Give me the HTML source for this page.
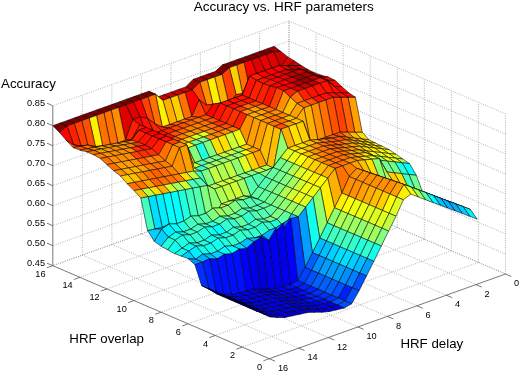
<!DOCTYPE html>
<html><head><meta charset="utf-8"><style>
html,body{margin:0;padding:0;background:#fff;width:520px;height:375px;overflow:hidden}
svg{display:block;will-change:transform}
.g{stroke:#8f8f8f;stroke-width:0.75;stroke-dasharray:0.9 1.45}
.a{stroke:#4a4d4a;stroke-width:0.75}
text{font-family:"Liberation Sans",sans-serif;fill:#000}
.t{font-size:9.2px}
.L{font-size:13.3px}
.T{font-size:13.5px}
</style></head><body>
<svg width="520" height="375" viewBox="0 0 520 375">
<rect width="520" height="375" fill="#fff"/>
<line x1="505.5" y1="274.0" x2="289.0" y2="181.0" class="g"/><line x1="476.0" y1="284.6" x2="259.5" y2="191.6" class="g"/><line x1="446.4" y1="295.2" x2="230.0" y2="202.2" class="g"/><line x1="416.9" y1="305.8" x2="200.4" y2="212.8" class="g"/><line x1="387.4" y1="316.4" x2="170.9" y2="223.4" class="g"/><line x1="357.9" y1="326.9" x2="141.4" y2="233.9" class="g"/><line x1="328.4" y1="337.5" x2="111.9" y2="244.5" class="g"/><line x1="298.8" y1="348.1" x2="82.3" y2="255.1" class="g"/><line x1="478.4" y1="262.4" x2="242.2" y2="347.1" class="g"/><line x1="451.4" y1="250.8" x2="215.2" y2="335.5" class="g"/><line x1="424.3" y1="239.1" x2="188.1" y2="323.8" class="g"/><line x1="397.3" y1="227.5" x2="161.1" y2="312.2" class="g"/><line x1="370.2" y1="215.9" x2="134.0" y2="300.6" class="g"/><line x1="343.1" y1="204.2" x2="106.9" y2="289.0" class="g"/><line x1="316.1" y1="192.6" x2="79.9" y2="277.3" class="g"/><line x1="289.0" y1="181.0" x2="52.8" y2="265.7" class="g"/><line x1="289.0" y1="181.0" x2="289.0" y2="21.0" class="g"/><line x1="259.5" y1="191.6" x2="259.5" y2="31.6" class="g"/><line x1="230.0" y1="202.2" x2="230.0" y2="42.2" class="g"/><line x1="200.4" y1="212.8" x2="200.4" y2="52.8" class="g"/><line x1="170.9" y1="223.4" x2="170.9" y2="63.4" class="g"/><line x1="141.4" y1="233.9" x2="141.4" y2="73.9" class="g"/><line x1="111.9" y1="244.5" x2="111.9" y2="84.5" class="g"/><line x1="82.3" y1="255.1" x2="82.3" y2="95.1" class="g"/><line x1="289.0" y1="181.0" x2="52.8" y2="265.7" class="g"/><line x1="289.0" y1="161.0" x2="52.8" y2="245.7" class="g"/><line x1="289.0" y1="141.0" x2="52.8" y2="225.7" class="g"/><line x1="289.0" y1="121.0" x2="52.8" y2="205.7" class="g"/><line x1="289.0" y1="101.0" x2="52.8" y2="185.7" class="g"/><line x1="289.0" y1="81.0" x2="52.8" y2="165.7" class="g"/><line x1="289.0" y1="61.0" x2="52.8" y2="145.7" class="g"/><line x1="289.0" y1="41.0" x2="52.8" y2="125.7" class="g"/><line x1="289.0" y1="21.0" x2="52.8" y2="105.7" class="g"/><line x1="505.5" y1="274.0" x2="505.5" y2="114.0" class="g"/><line x1="478.4" y1="262.4" x2="478.4" y2="102.4" class="g"/><line x1="451.4" y1="250.8" x2="451.4" y2="90.8" class="g"/><line x1="424.3" y1="239.1" x2="424.3" y2="79.1" class="g"/><line x1="397.3" y1="227.5" x2="397.3" y2="67.5" class="g"/><line x1="370.2" y1="215.9" x2="370.2" y2="55.9" class="g"/><line x1="343.1" y1="204.2" x2="343.1" y2="44.2" class="g"/><line x1="316.1" y1="192.6" x2="316.1" y2="32.6" class="g"/><line x1="289.0" y1="181.0" x2="289.0" y2="21.0" class="g"/><line x1="505.5" y1="274.0" x2="289.0" y2="181.0" class="g"/><line x1="505.5" y1="254.0" x2="289.0" y2="161.0" class="g"/><line x1="505.5" y1="234.0" x2="289.0" y2="141.0" class="g"/><line x1="505.5" y1="214.0" x2="289.0" y2="121.0" class="g"/><line x1="505.5" y1="194.0" x2="289.0" y2="101.0" class="g"/><line x1="505.5" y1="174.0" x2="289.0" y2="81.0" class="g"/><line x1="505.5" y1="154.0" x2="289.0" y2="61.0" class="g"/><line x1="505.5" y1="134.0" x2="289.0" y2="41.0" class="g"/><line x1="505.5" y1="114.0" x2="289.0" y2="21.0" class="g"/><g stroke="#000" stroke-width="0.55" stroke-opacity="1.0" stroke-linejoin="round"><polygon points="281,51.6 273.6,51.8 266.9,48.9 274.2,46.3" fill="#9f0000"/><polygon points="287.8,56.9 280.4,66.8 273.6,51.8 281,51.6" fill="#cf0000"/><polygon points="273.6,51.8 266.2,54.5 259.5,51.6 266.9,48.9" fill="#800000"/><polygon points="280.4,66.8 273,71.4 266.2,54.5 273.6,51.8" fill="#df0000"/><polygon points="294.5,61 287.2,65.7 280.4,66.8 287.8,56.9" fill="#df0000"/><polygon points="266.2,54.5 258.9,57.1 252.1,54.2 259.5,51.6" fill="#800000"/><polygon points="287.2,65.7 279.8,70.3 273,71.4 280.4,66.8" fill="#ff0000"/><polygon points="273,71.4 265.6,72 258.9,57.1 266.2,54.5" fill="#ef0000"/><polygon points="301.3,65.5 293.9,65.5 287.2,65.7 294.5,61" fill="#bf0000"/><polygon points="258.9,57.1 251.5,59.8 244.7,56.9 252.1,54.2" fill="#800000"/><polygon points="279.8,70.3 272.4,71 265.6,72 273,71.4" fill="#ff0000"/><polygon points="265.6,72 258.2,78.7 251.5,59.8 258.9,57.1" fill="#df0000"/><polygon points="293.9,65.5 286.5,65.5 279.8,70.3 287.2,65.7" fill="#cf0000"/><polygon points="308.1,69.7 300.7,69.7 293.9,65.5 301.3,65.5" fill="#cf0000"/><polygon points="251.5,59.8 244.1,62.4 237.3,59.5 244.7,56.9" fill="#800000"/><polygon points="258.2,78.7 250.9,95.3 244.1,62.4 251.5,59.8" fill="#ff0000"/><polygon points="272.4,71 265,77.6 258.2,78.7 265.6,72" fill="#ff0000"/><polygon points="265,77.6 257.6,94.2 250.9,95.3 258.2,78.7" fill="#ff2000"/><polygon points="286.5,65.5 279.2,65.5 272.4,71 279.8,70.3" fill="#ff0000"/><polygon points="314.8,73.1 307.5,73.1 300.7,69.7 308.1,69.7" fill="#9f0000"/><polygon points="244.1,62.4 236.7,65.1 230,62.2 237.3,59.5" fill="#800000"/><polygon points="250.9,95.3 243.5,98 236.7,65.1 244.1,62.4" fill="#ff7000"/><polygon points="300.7,69.7 293.3,69.7 286.5,65.5 293.9,65.5" fill="#bf0000"/><polygon points="257.6,94.2 250.3,96.9 243.5,98 250.9,95.3" fill="#ff1000"/><polygon points="279.2,65.5 271.8,68.1 265,77.6 272.4,71" fill="#ff0000"/><polygon points="236.7,65.1 229.3,67.7 222.6,64.8 230,62.2" fill="#800000"/><polygon points="321.6,75.4 314.2,75.4 307.5,73.1 314.8,73.1" fill="#cf0000"/><polygon points="243.5,98 236.1,94.6 229.3,67.7 236.7,65.1" fill="#ffcf00"/><polygon points="307.5,73.1 300.1,69 293.3,69.7 300.7,69.7" fill="#df0000"/><polygon points="293.3,69.7 285.9,69.7 279.2,65.5 286.5,65.5" fill="#df0000"/><polygon points="250.3,96.9 242.9,93.5 236.1,94.6 243.5,98" fill="#ff1000"/><polygon points="271.8,68.1 264.4,70.8 257.6,94.2 265,77.6" fill="#ff0000"/><polygon points="229.3,67.7 222,74.4 215.2,71.5 222.6,64.8" fill="#800000"/><polygon points="236.1,94.6 228.7,103.3 222,74.4 229.3,67.7" fill="#ff4000"/><polygon points="328.4,77.1 321,77.1 314.2,75.4 321.6,75.4" fill="#df0000"/><polygon points="314.2,75.4 306.8,71.9 300.1,69 307.5,73.1" fill="#af0000"/><polygon points="285.9,69.7 278.5,72.3 271.8,68.1 279.2,65.5" fill="#ff0000"/><polygon points="300.1,69 292.7,71.7 285.9,69.7 293.3,69.7" fill="#cf0000"/><polygon points="264.4,70.8 257,73.4 250.3,96.9 257.6,94.2" fill="#ff1000"/><polygon points="242.9,93.5 235.5,102.2 228.7,103.3 236.1,94.6" fill="#ff2000"/><polygon points="222,74.4 214.6,77 207.8,74.1 215.2,71.5" fill="#9f0000"/><polygon points="228.7,103.3 221.3,105.9 214.6,77 222,74.4" fill="#ffaf00"/><polygon points="235.5,102.2 228.1,104.8 221.3,105.9 228.7,103.3" fill="#ff1000"/><polygon points="335.1,80.4 327.7,80.4 321,77.1 328.4,77.1" fill="#ff0000"/><polygon points="278.5,72.3 271.2,75 264.4,70.8 271.8,68.1" fill="#ff0000"/><polygon points="292.7,71.7 285.3,74.3 278.5,72.3 285.9,69.7" fill="#df0000"/><polygon points="321,77.1 313.6,74.8 306.8,71.9 314.2,75.4" fill="#bf0000"/><polygon points="257,73.4 249.6,76 242.9,93.5 250.3,96.9" fill="#ff1000"/><polygon points="306.8,71.9 299.5,74.6 292.7,71.7 300.1,69" fill="#cf0000"/><polygon points="214.6,77 207.2,79.7 200.4,76.8 207.8,74.1" fill="#9f0000"/><polygon points="221.3,105.9 214,108.6 207.2,79.7 214.6,77" fill="#ffef00"/><polygon points="249.6,76 242.3,95.1 235.5,102.2 242.9,93.5" fill="#ff1000"/><polygon points="228.1,104.8 220.7,107.5 214,108.6 221.3,105.9" fill="#ff1000"/><polygon points="341.9,86.7 334.5,86.7 327.7,80.4 335.1,80.4" fill="#ff0000"/><polygon points="271.2,75 263.8,77.6 257,73.4 264.4,70.8" fill="#ff0000"/><polygon points="285.3,74.3 277.9,77 271.2,75 278.5,72.3" fill="#ff0000"/><polygon points="299.5,74.6 292.1,77.2 285.3,74.3 292.7,71.7" fill="#bf0000"/><polygon points="327.7,80.4 320.4,77.7 313.6,74.8 321,77.1" fill="#ef0000"/><polygon points="313.6,74.8 306.2,77.5 299.5,74.6 306.8,71.9" fill="#af0000"/><polygon points="207.2,79.7 199.8,82.3 193,79.4 200.4,76.8" fill="#9f0000"/><polygon points="242.3,95.1 234.9,97.7 228.1,104.8 235.5,102.2" fill="#ff1000"/><polygon points="214,108.6 206.6,105.2 199.8,82.3 207.2,79.7" fill="#ff8f00"/><polygon points="348.7,92.8 341.3,92.8 334.5,86.7 341.9,86.7" fill="#ff0000"/><polygon points="263.8,77.6 256.4,80.3 249.6,76 257,73.4" fill="#ff2000"/><polygon points="277.9,77 270.5,79.6 263.8,77.6 271.2,75" fill="#ff0000"/><polygon points="220.7,107.5 213.3,104.1 206.6,105.2 214,108.6" fill="#ff2000"/><polygon points="199.8,82.3 192.4,89.8 185.7,86.9 193,79.4" fill="#9f0000"/><polygon points="292.1,77.2 284.7,79.9 277.9,77 285.3,74.3" fill="#ef0000"/><polygon points="334.5,86.7 327.1,80.7 320.4,77.7 327.7,80.4" fill="#ff1000"/><polygon points="306.2,77.5 298.8,80.1 292.1,77.2 299.5,74.6" fill="#9f0000"/><polygon points="320.4,77.7 313,80.4 306.2,77.5 313.6,74.8" fill="#bf0000"/><polygon points="256.4,80.3 249,98 242.3,95.1 249.6,76" fill="#ff1000"/><polygon points="234.9,97.7 227.5,100.4 220.7,107.5 228.1,104.8" fill="#ff1000"/><polygon points="369,139.8 361.6,138.9 354.8,132.1 362.2,132.1" fill="#ffdf00"/><polygon points="362.2,132.1 354.8,132.1 348,97.1 355.4,97.2" fill="#ff9f00"/><polygon points="355.4,97.2 348,97.1 341.3,92.8 348.7,92.8" fill="#ff0000"/><polygon points="206.6,105.2 199.2,99.9 192.4,89.8 199.8,82.3" fill="#ff4000"/><polygon points="249,98 241.6,100.6 234.9,97.7 242.3,95.1" fill="#ff1000"/><polygon points="192.4,89.8 185.1,92.4 178.3,89.5 185.7,86.9" fill="#cf0000"/><polygon points="270.5,79.6 263.2,83.6 256.4,80.3 263.8,77.6" fill="#ff1000"/><polygon points="341.3,92.8 333.9,92.8 327.1,80.7 334.5,86.7" fill="#ff1000"/><polygon points="284.7,79.9 277.3,82.5 270.5,79.6 277.9,77" fill="#ff0000"/><polygon points="213.3,104.1 206,114.8 199.2,99.9 206.6,105.2" fill="#ff2000"/><polygon points="298.8,80.1 291.5,82.8 284.7,79.9 292.1,77.2" fill="#df0000"/><polygon points="313,80.4 305.6,83 298.8,80.1 306.2,77.5" fill="#9f0000"/><polygon points="375.7,143.1 368.3,142.2 361.6,138.9 369,139.8" fill="#ffdf00"/><polygon points="327.1,80.7 319.8,83.3 313,80.4 320.4,77.7" fill="#ff1000"/><polygon points="263.2,83.6 255.8,100.9 249,98 256.4,80.3" fill="#ff2000"/><polygon points="227.5,100.4 220.1,103 213.3,104.1 220.7,107.5" fill="#ff1000"/><polygon points="199.2,99.9 191.8,116.5 185.1,92.4 192.4,89.8" fill="#ff0000"/><polygon points="361.6,138.9 354.2,138.1 347.4,132 354.8,132.1" fill="#ffbf00"/><polygon points="354.8,132.1 347.4,132 340.7,97.1 348,97.1" fill="#ff6000"/><polygon points="241.6,100.6 234.3,103.3 227.5,100.4 234.9,97.7" fill="#ff1000"/><polygon points="348,97.1 340.7,97.1 333.9,92.8 341.3,92.8" fill="#ff1000"/><polygon points="255.8,100.9 248.4,103.6 241.6,100.6 249,98" fill="#ff1000"/><polygon points="185.1,92.4 177.7,95.1 170.9,92.2 178.3,89.5" fill="#cf0000"/><polygon points="206,114.8 198.6,117.4 191.8,116.5 199.2,99.9" fill="#ff4000"/><polygon points="277.3,82.5 269.9,86 263.2,83.6 270.5,79.6" fill="#ff1000"/><polygon points="291.5,82.8 284.1,85.4 277.3,82.5 284.7,79.9" fill="#ff0000"/><polygon points="333.9,92.8 326.5,92.8 319.8,83.3 327.1,80.7" fill="#ff1000"/><polygon points="220.1,103 212.7,117.7 206,114.8 213.3,104.1" fill="#ff0000"/><polygon points="191.8,116.5 184.4,119.2 177.7,95.1 185.1,92.4" fill="#ff7000"/><polygon points="305.6,83 298.2,85.7 291.5,82.8 298.8,80.1" fill="#af0000"/><polygon points="319.8,83.3 312.4,85.9 305.6,83 313,80.4" fill="#bf0000"/><polygon points="382.5,146.4 375.1,145.5 368.3,142.2 375.7,143.1" fill="#ffef00"/><polygon points="269.9,86 262.5,103.8 255.8,100.9 263.2,83.6" fill="#ff2000"/><polygon points="368.3,142.2 361,141.4 354.2,138.1 361.6,138.9" fill="#ffcf00"/><polygon points="198.6,117.4 191.2,120.1 184.4,119.2 191.8,116.5" fill="#ff5000"/><polygon points="234.3,103.3 226.9,105.9 220.1,103 227.5,100.4" fill="#ff1000"/><polygon points="354.2,138.1 346.8,137.2 340,132 347.4,132" fill="#ff8000"/><polygon points="212.7,117.7 205.3,120.3 198.6,117.4 206,114.8" fill="#ff5000"/><polygon points="248.4,103.6 241,106.2 234.3,103.3 241.6,100.6" fill="#ff2000"/><polygon points="177.7,95.1 170.3,97.7 163.5,94.8 170.9,92.2" fill="#cf0000"/><polygon points="347.4,132 340,132 333.3,97.1 340.7,97.1" fill="#ff4000"/><polygon points="340.7,97.1 333.3,97.1 326.5,92.8 333.9,92.8" fill="#ff1000"/><polygon points="262.5,103.8 255.2,106.5 248.4,103.6 255.8,100.9" fill="#ff4000"/><polygon points="284.1,85.4 276.7,87.6 269.9,86 277.3,82.5" fill="#ff0000"/><polygon points="326.5,92.8 319.1,95.4 312.4,85.9 319.8,83.3" fill="#ff1000"/><polygon points="184.4,119.2 177.1,121.8 170.3,97.7 177.7,95.1" fill="#ffcf00"/><polygon points="298.2,85.7 290.8,88.3 284.1,85.4 291.5,82.8" fill="#ef0000"/><polygon points="226.9,105.9 219.5,120.6 212.7,117.7 220.1,103" fill="#ff1000"/><polygon points="312.4,85.9 305,88.6 298.2,85.7 305.6,83" fill="#cf0000"/><polygon points="389.3,149.7 381.9,148.8 375.1,145.5 382.5,146.4" fill="#ffff00"/><polygon points="276.7,87.6 269.3,106.7 262.5,103.8 269.9,86" fill="#ff1000"/><polygon points="375.1,145.5 367.7,144.7 361,141.4 368.3,142.2" fill="#ffdf00"/><polygon points="191.2,120.1 183.8,122.7 177.1,121.8 184.4,119.2" fill="#ff7000"/><polygon points="361,141.4 353.6,140.5 346.8,137.2 354.2,138.1" fill="#ffaf00"/><polygon points="205.3,120.3 198,123 191.2,120.1 198.6,117.4" fill="#ff7000"/><polygon points="241,106.2 233.6,108.8 226.9,105.9 234.3,103.3" fill="#ff1000"/><polygon points="170.3,97.7 162.9,100.4 156.1,97.4 163.5,94.8" fill="#cf0000"/><polygon points="219.5,120.6 212.1,123.2 205.3,120.3 212.7,117.7" fill="#ff5000"/><polygon points="255.2,106.5 247.8,109.1 241,106.2 248.4,103.6" fill="#ff7000"/><polygon points="346.8,137.2 339.4,136.4 332.7,134.7 340,132" fill="#ff5000"/><polygon points="340,132 332.7,134.7 325.9,99.8 333.3,97.1" fill="#ff5000"/><polygon points="333.3,97.1 325.9,99.8 319.1,95.4 326.5,92.8" fill="#ff1000"/><polygon points="269.3,106.7 261.9,109.4 255.2,106.5 262.5,103.8" fill="#ff7000"/><polygon points="319.1,95.4 311.8,98.1 305,88.6 312.4,85.9" fill="#ff1000"/><polygon points="177.1,121.8 169.7,124.5 162.9,100.4 170.3,97.7" fill="#ffaf00"/><polygon points="290.8,88.3 283.5,90.9 276.7,87.6 284.1,85.4" fill="#ff0000"/><polygon points="305,88.6 297.6,91.2 290.8,88.3 298.2,85.7" fill="#df0000"/><polygon points="233.6,108.8 226.3,123.5 219.5,120.6 226.9,105.9" fill="#ff2000"/><polygon points="396,154.3 388.6,153.5 381.9,148.8 389.3,149.7" fill="#efff10"/><polygon points="183.8,122.7 176.4,125.4 169.7,124.5 177.1,121.8" fill="#ff6000"/><polygon points="381.9,148.8 374.5,148 367.7,144.7 375.1,145.5" fill="#ffef00"/><polygon points="283.5,90.9 276.1,109.6 269.3,106.7 276.7,87.6" fill="#ff4000"/><polygon points="198,123 190.6,125.6 183.8,122.7 191.2,120.1" fill="#ff6000"/><polygon points="367.7,144.7 360.3,143.8 353.6,140.5 361,141.4" fill="#ffcf00"/><polygon points="212.1,123.2 204.7,125.9 198,123 205.3,120.3" fill="#ff7000"/><polygon points="247.8,109.1 240.4,111.8 233.6,108.8 241,106.2" fill="#ff3000"/><polygon points="332.7,134.7 325.3,137.3 318.5,102.4 325.9,99.8" fill="#ff7000"/><polygon points="226.3,123.5 218.9,126.1 212.1,123.2 219.5,120.6" fill="#ff3000"/><polygon points="353.6,140.5 346.2,139.7 339.4,136.4 346.8,137.2" fill="#ff8000"/><polygon points="339.4,136.4 332.1,138.2 325.3,137.3 332.7,134.7" fill="#ff6000"/><polygon points="325.9,99.8 318.5,102.4 311.8,98.1 319.1,95.4" fill="#ff1000"/><polygon points="261.9,109.4 254.6,112 247.8,109.1 255.2,106.5" fill="#ff9f00"/><polygon points="276.1,109.6 268.7,112.3 261.9,109.4 269.3,106.7" fill="#ff7000"/><polygon points="162.9,100.4 155.5,94.2 148.8,91.3 156.1,97.4" fill="#cf0000"/><polygon points="311.8,98.1 304.4,100.7 297.6,91.2 305,88.6" fill="#ff2000"/><polygon points="297.6,91.2 290.2,97.2 283.5,90.9 290.8,88.3" fill="#ff2000"/><polygon points="169.7,124.5 162.3,127.1 155.5,94.2 162.9,100.4" fill="#ffef00"/><polygon points="402.8,159 395.4,158.1 388.6,153.5 396,154.3" fill="#dfff20"/><polygon points="240.4,111.8 233,126.4 226.3,123.5 233.6,108.8" fill="#ff3000"/><polygon points="176.4,125.4 169.1,128 162.3,127.1 169.7,124.5" fill="#ff4000"/><polygon points="388.6,153.5 381.3,152.6 374.5,148 381.9,148.8" fill="#ffef00"/><polygon points="290.2,97.2 282.8,112.5 276.1,109.6 283.5,90.9" fill="#ff8f00"/><polygon points="190.6,125.6 183.2,128.3 176.4,125.4 183.8,122.7" fill="#ff5000"/><polygon points="204.7,125.9 197.4,128.5 190.6,125.6 198,123" fill="#ff8000"/><polygon points="374.5,148 367.1,147.1 360.3,143.8 367.7,144.7" fill="#ffdf00"/><polygon points="325.3,137.3 317.9,140 311.1,105.1 318.5,102.4" fill="#ff8f00"/><polygon points="218.9,126.1 211.5,128.8 204.7,125.9 212.1,123.2" fill="#ff7000"/><polygon points="318.5,102.4 311.1,105.1 304.4,100.7 311.8,98.1" fill="#ff5000"/><polygon points="254.6,112 247.2,114.7 240.4,111.8 247.8,109.1" fill="#ff8f00"/><polygon points="332.1,138.2 324.7,138.9 317.9,140 325.3,137.3" fill="#ff8000"/><polygon points="360.3,143.8 353,143 346.2,139.7 353.6,140.5" fill="#ffaf00"/><polygon points="233,126.4 225.6,129 218.9,126.1 226.3,123.5" fill="#ff5000"/><polygon points="268.7,112.3 261.3,114.9 254.6,112 261.9,109.4" fill="#ff9f00"/><polygon points="304.4,100.7 297,103.4 290.2,97.2 297.6,91.2" fill="#ff7000"/><polygon points="346.2,139.7 338.8,141.1 332.1,138.2 339.4,136.4" fill="#ff5000"/><polygon points="282.8,112.5 275.5,115.2 268.7,112.3 276.1,109.6" fill="#ff8f00"/><polygon points="409.6,163.6 402.2,162.8 395.4,158.1 402.8,159" fill="#9fff60"/><polygon points="155.5,94.2 148.1,96.8 141.4,93.9 148.8,91.3" fill="#800000"/><polygon points="162.3,127.1 154.9,123.8 148.1,96.8 155.5,94.2" fill="#ff7000"/><polygon points="247.2,114.7 239.8,129.3 233,126.4 240.4,111.8" fill="#ff2000"/><polygon points="395.4,158.1 388,157.3 381.3,152.6 388.6,153.5" fill="#ffff00"/><polygon points="297,103.4 289.6,115.4 282.8,112.5 290.2,97.2" fill="#ffbf00"/><polygon points="169.1,128 161.7,130.7 154.9,123.8 162.3,127.1" fill="#ff2000"/><polygon points="183.2,128.3 175.8,130.9 169.1,128 176.4,125.4" fill="#ff4000"/><polygon points="197.4,128.5 190,131.2 183.2,128.3 190.6,125.6" fill="#ff8000"/><polygon points="381.3,152.6 373.9,151.8 367.1,147.1 374.5,148" fill="#ffef00"/><polygon points="317.9,140 310.5,142.6 303.8,107.7 311.1,105.1" fill="#ffaf00"/><polygon points="211.5,128.8 204.1,131.4 197.4,128.5 204.7,125.9" fill="#ff8000"/><polygon points="311.1,105.1 303.8,107.7 297,103.4 304.4,100.7" fill="#ff7000"/><polygon points="225.6,129 218.3,131.7 211.5,128.8 218.9,126.1" fill="#ff6000"/><polygon points="261.3,114.9 253.9,117.6 247.2,114.7 254.6,112" fill="#ffaf00"/><polygon points="324.7,138.9 317.3,139.5 310.5,142.6 317.9,140" fill="#ff9f00"/><polygon points="416.3,175.3 408.9,174.5 402.2,162.8 409.6,163.6" fill="#00ffff"/><polygon points="367.1,147.1 359.7,146.3 353,143 360.3,143.8" fill="#ffcf00"/><polygon points="239.8,129.3 232.4,132 225.6,129 233,126.4" fill="#ff7000"/><polygon points="275.5,115.2 268.1,117.8 261.3,114.9 268.7,112.3" fill="#ff8000"/><polygon points="353,143 345.6,144 338.8,141.1 346.2,139.7" fill="#ff8000"/><polygon points="338.8,141.1 331.4,141.8 324.7,138.9 332.1,138.2" fill="#ff6000"/><polygon points="289.6,115.4 282.2,118.1 275.5,115.2 282.8,112.5" fill="#ff8000"/><polygon points="148.1,96.8 140.8,99.5 134,96.6 141.4,93.9" fill="#800000"/><polygon points="423.1,193.2 415.7,190.5 408.9,174.5 416.3,175.3" fill="#70ff8f"/><polygon points="253.9,117.6 246.6,144.2 239.8,129.3 247.2,114.7" fill="#ff8f00"/><polygon points="402.2,162.8 394.8,161.9 388,157.3 395.4,158.1" fill="#efff10"/><polygon points="303.8,107.7 296.4,118.3 289.6,115.4 297,103.4" fill="#ff9f00"/><polygon points="175.8,130.9 168.4,133.6 161.7,130.7 169.1,128" fill="#ff2000"/><polygon points="154.9,123.8 147.5,118.4 140.8,99.5 148.1,96.8" fill="#ff4000"/><polygon points="246.6,144.2 239.2,146.9 232.4,132 239.8,129.3" fill="#efff10"/><polygon points="190,131.2 182.6,133.8 175.8,130.9 183.2,128.3" fill="#ff6000"/><polygon points="388,157.3 380.6,156.4 373.9,151.8 381.3,152.6" fill="#dfff20"/><polygon points="161.7,130.7 154.3,133.3 147.5,118.4 154.9,123.8" fill="#ff2000"/><polygon points="204.1,131.4 196.7,134.1 190,131.2 197.4,128.5" fill="#ff8f00"/><polygon points="429.8,195.5 422.5,192.8 415.7,190.5 423.1,193.2" fill="#8fff70"/><polygon points="218.3,131.7 210.9,134.3 204.1,131.4 211.5,128.8" fill="#ff8f00"/><polygon points="373.9,151.8 366.5,150.9 359.7,146.3 367.1,147.1" fill="#ffdf00"/><polygon points="232.4,132 225,134.6 218.3,131.7 225.6,129" fill="#ff8f00"/><polygon points="268.1,117.8 260.7,120.5 253.9,117.6 261.3,114.9" fill="#ffaf00"/><polygon points="310.5,142.6 303.1,121.3 296.4,118.3 303.8,107.7" fill="#ffaf00"/><polygon points="282.2,118.1 274.8,120.7 268.1,117.8 275.5,115.2" fill="#ff7000"/><polygon points="359.7,146.3 352.3,146.9 345.6,144 353,143" fill="#ff9f00"/><polygon points="345.6,144 338.2,144.7 331.4,141.8 338.8,141.1" fill="#ff6000"/><polygon points="408.9,174.5 401.6,173.6 394.8,161.9 402.2,162.8" fill="#20ffdf"/><polygon points="260.7,120.5 253.3,147.1 246.6,144.2 253.9,117.6" fill="#ff9f00"/><polygon points="331.4,141.8 324.1,142.4 317.3,139.5 324.7,138.9" fill="#ff8000"/><polygon points="296.4,118.3 289,121 282.2,118.1 289.6,115.4" fill="#ffbf00"/><polygon points="140.8,99.5 133.4,102.1 126.6,99.2 134,96.6" fill="#800000"/><polygon points="253.3,147.1 245.9,149.8 239.2,146.9 246.6,144.2" fill="#ffcf00"/><polygon points="317.3,139.5 309.9,140.2 303.1,121.3 310.5,142.6" fill="#ffcf00"/><polygon points="415.7,190.5 408.3,187.7 401.6,173.6 408.9,174.5" fill="#40ffbf"/><polygon points="168.4,133.6 161.1,136.2 154.3,133.3 161.7,130.7" fill="#ff1000"/><polygon points="239.2,146.9 231.8,149.5 225,134.6 232.4,132" fill="#cfff30"/><polygon points="394.8,161.9 387.4,161.1 380.6,156.4 388,157.3" fill="#efff10"/><polygon points="182.6,133.8 175.2,136.5 168.4,133.6 175.8,130.9" fill="#ff5000"/><polygon points="196.7,134.1 189.4,136.7 182.6,133.8 190,131.2" fill="#ff9f00"/><polygon points="147.5,118.4 140.1,117 133.4,102.1 140.8,99.5" fill="#ff0000"/><polygon points="210.9,134.3 203.5,137 196.7,134.1 204.1,131.4" fill="#dfff20"/><polygon points="380.6,156.4 373.3,155.6 366.5,150.9 373.9,151.8" fill="#ffff00"/><polygon points="154.3,133.3 146.9,136 140.1,117 147.5,118.4" fill="#ff1000"/><polygon points="225,134.6 217.6,137.2 210.9,134.3 218.3,131.7" fill="#ff8000"/><polygon points="436.6,197.8 429.2,195.1 422.5,192.8 429.8,195.5" fill="#40ffbf"/><polygon points="274.8,120.7 267.5,123.4 260.7,120.5 268.1,117.8" fill="#ff8f00"/><polygon points="366.5,150.9 359.1,149.8 352.3,146.9 359.7,146.3" fill="#ffbf00"/><polygon points="289,121 281.6,123.6 274.8,120.7 282.2,118.1" fill="#ff7000"/><polygon points="133.4,102.1 126,104.8 119.2,101.9 126.6,99.2" fill="#800000"/><polygon points="352.3,146.9 345,147.6 338.2,144.7 345.6,144" fill="#ff8000"/><polygon points="422.5,192.8 415.1,190 408.3,187.7 415.7,190.5" fill="#dfff20"/><polygon points="267.5,123.4 260.1,150 253.3,147.1 260.7,120.5" fill="#ff9f00"/><polygon points="338.2,144.7 330.8,145.3 324.1,142.4 331.4,141.8" fill="#ff6000"/><polygon points="303.1,121.3 295.8,123.9 289,121 296.4,118.3" fill="#ffbf00"/><polygon points="324.1,142.4 316.7,143.1 309.9,140.2 317.3,139.5" fill="#ff9f00"/><polygon points="245.9,149.8 238.6,152.4 231.8,149.5 239.2,146.9" fill="#9fff60"/><polygon points="401.6,173.6 394.2,172.8 387.4,161.1 394.8,161.9" fill="#70ff8f"/><polygon points="260.1,150 252.7,152.7 245.9,149.8 253.3,147.1" fill="#ff9f00"/><polygon points="161.1,136.2 153.7,138.9 146.9,136 154.3,133.3" fill="#ff0000"/><polygon points="231.8,149.5 224.4,152.2 217.6,137.2 225,134.6" fill="#ffdf00"/><polygon points="175.2,136.5 167.8,139.1 161.1,136.2 168.4,133.6" fill="#ff1000"/><polygon points="189.4,136.7 182,139.4 175.2,136.5 182.6,133.8" fill="#ff8000"/><polygon points="309.9,140.2 302.5,142.8 295.8,123.9 303.1,121.3" fill="#ffcf00"/><polygon points="408.3,187.7 400.9,184.9 394.2,172.8 401.6,173.6" fill="#ffdf00"/><polygon points="203.5,137 196.1,139.6 189.4,136.7 196.7,134.1" fill="#dfff20"/><polygon points="140.1,117 132.8,119.7 126,104.8 133.4,102.1" fill="#df0000"/><polygon points="387.4,161.1 380,160.2 373.3,155.6 380.6,156.4" fill="#afff50"/><polygon points="217.6,137.2 210.3,139.9 203.5,137 210.9,134.3" fill="#ff8f00"/><polygon points="266.9,164.9 259.5,167.6 252.7,152.7 260.1,150" fill="#ff9f00"/><polygon points="443.4,200.2 436,197.4 429.2,195.1 436.6,197.8" fill="#00dfff"/><polygon points="274.2,126.3 266.9,164.9 260.1,150 267.5,123.4" fill="#ffbf00"/><polygon points="281.6,123.6 274.2,126.3 267.5,123.4 274.8,120.7" fill="#ff7000"/><polygon points="373.3,155.6 365.9,152.7 359.1,149.8 366.5,150.9" fill="#ffdf00"/><polygon points="126,104.8 118.6,107.4 111.9,104.5 119.2,101.9" fill="#800000"/><polygon points="146.9,136 139.5,124.6 132.8,119.7 140.1,117" fill="#ff0000"/><polygon points="295.8,123.9 288.4,126.5 281.6,123.6 289,121" fill="#ff9f00"/><polygon points="359.1,149.8 351.7,150.5 345,147.6 352.3,146.9" fill="#ff9f00"/><polygon points="238.6,152.4 231.2,155.1 224.4,152.2 231.8,149.5" fill="#bfff40"/><polygon points="345,147.6 337.6,148.2 330.8,145.3 338.2,144.7" fill="#ff6000"/><polygon points="429.2,195.1 421.9,192.3 415.1,190 422.5,192.8" fill="#8fff70"/><polygon points="316.7,143.1 309.3,145.7 302.5,142.8 309.9,140.2" fill="#ffbf00"/><polygon points="330.8,145.3 323.4,146 316.7,143.1 324.1,142.4" fill="#ff7000"/><polygon points="252.7,152.7 245.3,155.3 238.6,152.4 245.9,149.8" fill="#ffff00"/><polygon points="132.8,119.7 125.4,140.3 118.6,107.4 126,104.8" fill="#df0000"/><polygon points="415.1,190 407.7,187.2 400.9,184.9 408.3,187.7" fill="#cfff30"/><polygon points="394.2,172.8 386.8,171.9 380,160.2 387.4,161.1" fill="#70ff8f"/><polygon points="224.4,152.2 217,154.8 210.3,139.9 217.6,137.2" fill="#ffdf00"/><polygon points="167.8,139.1 160.4,141.8 153.7,138.9 161.1,136.2" fill="#ff1000"/><polygon points="182,139.4 174.6,142 167.8,139.1 175.2,136.5" fill="#ff5000"/><polygon points="273.6,167.8 266.2,170.5 259.5,167.6 266.9,164.9" fill="#afff50"/><polygon points="302.5,142.8 295.1,145.5 288.4,126.5 295.8,123.9" fill="#ffdf00"/><polygon points="196.1,139.6 188.7,142.3 182,139.4 189.4,136.7" fill="#ffcf00"/><polygon points="210.3,139.9 202.9,142.5 196.1,139.6 203.5,137" fill="#80ff80"/><polygon points="139.5,124.6 132.2,139.2 125.4,140.3 132.8,119.7" fill="#ff2000"/><polygon points="281,129.2 273.6,167.8 266.9,164.9 274.2,126.3" fill="#ffbf00"/><polygon points="153.7,138.9 146.3,127.5 139.5,124.6 146.9,136" fill="#ff0000"/><polygon points="259.5,167.6 252.1,170.2 245.3,155.3 252.7,152.7" fill="#ffcf00"/><polygon points="400.9,184.9 393.6,182.1 386.8,171.9 394.2,172.8" fill="#ffcf00"/><polygon points="118.6,107.4 111.2,110.1 104.5,107.2 111.9,104.5" fill="#800000"/><polygon points="380,160.2 372.6,155.7 365.9,152.7 373.3,155.6" fill="#ffff00"/><polygon points="125.4,140.3 118,143 111.2,110.1 118.6,107.4" fill="#ff8f00"/><polygon points="450.1,202.5 442.8,199.7 436,197.4 443.4,200.2" fill="#00bfff"/><polygon points="288.4,126.5 281,129.2 274.2,126.3 281.6,123.6" fill="#ff5000"/><polygon points="231.2,155.1 223.8,157.7 217,154.8 224.4,152.2" fill="#bfff40"/><polygon points="309.3,145.7 301.9,148.4 295.1,145.5 302.5,142.8" fill="#ffdf00"/><polygon points="365.9,152.7 358.5,153.4 351.7,150.5 359.1,149.8" fill="#ffaf00"/><polygon points="245.3,155.3 237.9,158 231.2,155.1 238.6,152.4" fill="#8fff70"/><polygon points="351.7,150.5 344.4,151.1 337.6,148.2 345,147.6" fill="#ff8000"/><polygon points="323.4,146 316.1,148.6 309.3,145.7 316.7,143.1" fill="#ff8f00"/><polygon points="132.2,139.2 124.8,141.9 118,143 125.4,140.3" fill="#ff8f00"/><polygon points="337.6,148.2 330.2,148.9 323.4,146 330.8,145.3" fill="#ff7000"/><polygon points="436,197.4 428.6,194.6 421.9,192.3 429.2,195.1" fill="#40ffbf"/><polygon points="217,154.8 209.6,157.4 202.9,142.5 210.3,139.9" fill="#80ff80"/><polygon points="421.9,192.3 414.5,189.5 407.7,187.2 415.1,190" fill="#dfff20"/><polygon points="174.6,142 167.2,144.7 160.4,141.8 167.8,139.1" fill="#ff2000"/><polygon points="266.2,170.5 258.9,173.1 252.1,170.2 259.5,167.6" fill="#bfff40"/><polygon points="295.1,145.5 287.8,148.1 281,129.2 288.4,126.5" fill="#ffaf00"/><polygon points="188.7,142.3 181.4,144.9 174.6,142 182,139.4" fill="#ff9f00"/><polygon points="202.9,142.5 195.5,145.2 188.7,142.3 196.1,139.6" fill="#70ff8f"/><polygon points="407.7,187.2 400.3,184.4 393.6,182.1 400.9,184.9" fill="#ffbf00"/><polygon points="287.8,148.1 280.4,157.7 273.6,167.8 281,129.2" fill="#8fff70"/><polygon points="252.1,170.2 244.7,172.9 237.9,158 245.3,155.3" fill="#dfff20"/><polygon points="386.8,171.9 379.4,158.6 372.6,155.7 380,160.2" fill="#9fff60"/><polygon points="160.4,141.8 153.1,130.4 146.3,127.5 153.7,138.9" fill="#ff0000"/><polygon points="111.2,110.1 103.9,112.7 97.1,109.8 104.5,107.2" fill="#800000"/><polygon points="280.4,157.7 273,167.4 266.2,170.5 273.6,167.8" fill="#70ff8f"/><polygon points="118,143 110.6,145.6 103.9,112.7 111.2,110.1" fill="#ff7000"/><polygon points="146.3,127.5 138.9,130.2 132.2,139.2 139.5,124.6" fill="#ff1000"/><polygon points="223.8,157.7 216.4,160.4 209.6,157.4 217,154.8" fill="#80ff80"/><polygon points="301.9,148.4 294.5,151 287.8,148.1 295.1,145.5" fill="#ffdf00"/><polygon points="456.9,204.8 449.5,202 442.8,199.7 450.1,202.5" fill="#00bfff"/><polygon points="237.9,158 230.6,160.6 223.8,157.7 231.2,155.1" fill="#9fff60"/><polygon points="316.1,148.6 308.7,151.3 301.9,148.4 309.3,145.7" fill="#ffbf00"/><polygon points="124.8,141.9 117.4,144.5 110.6,145.6 118,143" fill="#ff8f00"/><polygon points="372.6,155.7 365.3,156.3 358.5,153.4 365.9,152.7" fill="#ffef00"/><polygon points="358.5,153.4 351.1,154 344.4,151.1 351.7,150.5" fill="#ff9f00"/><polygon points="330.2,148.9 322.8,151.5 316.1,148.6 323.4,146" fill="#ff7000"/><polygon points="344.4,151.1 337,151.8 330.2,148.9 337.6,148.2" fill="#ff6000"/><polygon points="442.8,199.7 435.4,196.9 428.6,194.6 436,197.4" fill="#00dfff"/><polygon points="209.6,157.4 202.3,160.1 195.5,145.2 202.9,142.5" fill="#20ffdf"/><polygon points="393.6,182.1 386.2,179.4 379.4,158.6 386.8,171.9" fill="#afff50"/><polygon points="258.9,173.1 251.5,175.8 244.7,172.9 252.1,170.2" fill="#80ff80"/><polygon points="181.4,144.9 174,147.6 167.2,144.7 174.6,142" fill="#ff6000"/><polygon points="428.6,194.6 421.2,191.8 414.5,189.5 421.9,192.3" fill="#9fff60"/><polygon points="195.5,145.2 188.1,147.8 181.4,144.9 188.7,142.3" fill="#ffff00"/><polygon points="273,167.4 265.6,177 258.9,173.1 266.2,170.5" fill="#80ff80"/><polygon points="138.9,130.2 131.5,140.3 124.8,141.9 132.2,139.2" fill="#ff7000"/><polygon points="414.5,189.5 407.1,186.8 400.3,184.4 407.7,187.2" fill="#cfff30"/><polygon points="244.7,172.9 237.3,175.5 230.6,160.6 237.9,158" fill="#8fff70"/><polygon points="294.5,151 287.1,160.7 280.4,157.7 287.8,148.1" fill="#dfff20"/><polygon points="103.9,112.7 96.5,115.4 89.7,112.5 97.1,109.8" fill="#800000"/><polygon points="167.2,144.7 159.8,133.3 153.1,130.4 160.4,141.8" fill="#ff0000"/><polygon points="110.6,145.6 103.2,148.3 96.5,115.4 103.9,112.7" fill="#ff7000"/><polygon points="216.4,160.4 209,163 202.3,160.1 209.6,157.4" fill="#80ff80"/><polygon points="400.3,184.4 392.9,181.7 386.2,179.4 393.6,182.1" fill="#ff8f00"/><polygon points="230.6,160.6 223.2,163.3 216.4,160.4 223.8,157.7" fill="#8fff70"/><polygon points="308.7,151.3 301.3,153.9 294.5,151 301.9,148.4" fill="#ffef00"/><polygon points="117.4,144.5 110,147.2 103.2,148.3 110.6,145.6" fill="#ff8f00"/><polygon points="463.7,207.1 456.3,204.3 449.5,202 456.9,204.8" fill="#00dfff"/><polygon points="322.8,151.5 315.4,154.2 308.7,151.3 316.1,148.6" fill="#ff8f00"/><polygon points="379.4,158.6 372,159.2 365.3,156.3 372.6,155.7" fill="#efff10"/><polygon points="153.1,130.4 145.7,133.1 138.9,130.2 146.3,127.5" fill="#ff0000"/><polygon points="202.3,160.1 194.9,162.7 188.1,147.8 195.5,145.2" fill="#80ff80"/><polygon points="287.1,160.7 279.8,170.3 273,167.4 280.4,157.7" fill="#70ff8f"/><polygon points="365.3,156.3 357.9,156.9 351.1,154 358.5,153.4" fill="#ffaf00"/><polygon points="337,151.8 329.6,154.4 322.8,151.5 330.2,148.9" fill="#ff7000"/><polygon points="351.1,154 343.7,154.7 337,151.8 344.4,151.1" fill="#ff7000"/><polygon points="265.6,177 258.2,186.7 251.5,175.8 258.9,173.1" fill="#50ffaf"/><polygon points="449.5,202 442.1,199.2 435.4,196.9 442.8,199.7" fill="#00bfff"/><polygon points="251.5,175.8 244.1,178.4 237.3,175.5 244.7,172.9" fill="#80ff80"/><polygon points="131.5,140.3 124.2,141.7 117.4,144.5 124.8,141.9" fill="#ff8f00"/><polygon points="188.1,147.8 180.7,150.5 174,147.6 181.4,144.9" fill="#ffaf00"/><polygon points="435.4,196.9 428,194.1 421.2,191.8 428.6,194.6" fill="#50ffaf"/><polygon points="237.3,175.5 229.9,178.2 223.2,163.3 230.6,160.6" fill="#bfff40"/><polygon points="386.2,179.4 378.8,176.6 372,159.2 379.4,158.6" fill="#8fff70"/><polygon points="279.8,170.3 272.4,179.9 265.6,177 273,167.4" fill="#60ff9f"/><polygon points="96.5,115.4 89.1,118 82.3,115.1 89.7,112.5" fill="#800000"/><polygon points="301.3,153.9 293.9,163.6 287.1,160.7 294.5,151" fill="#efff10"/><polygon points="421.2,191.8 413.9,189.1 407.1,186.8 414.5,189.5" fill="#cfff30"/><polygon points="103.2,148.3 95.9,148.9 89.1,118 96.5,115.4" fill="#ffef00"/><polygon points="209,163 201.7,165.6 194.9,162.7 202.3,160.1" fill="#50ffaf"/><polygon points="174,147.6 166.6,136.2 159.8,133.3 167.2,144.7" fill="#ff1000"/><polygon points="145.7,133.1 138.3,142.1 131.5,140.3 138.9,130.2" fill="#ff2000"/><polygon points="223.2,163.3 215.8,165.9 209,163 216.4,160.4" fill="#9fff60"/><polygon points="407.1,186.8 399.7,184 392.9,181.7 400.3,184.4" fill="#ffaf00"/><polygon points="258.2,186.7 250.9,196.3 244.1,178.4 251.5,175.8" fill="#50ffaf"/><polygon points="110,147.2 102.6,147.8 95.9,148.9 103.2,148.3" fill="#ff9f00"/><polygon points="315.4,154.2 308.1,156.8 301.3,153.9 308.7,151.3" fill="#ffbf00"/><polygon points="194.9,162.7 187.5,165.4 180.7,150.5 188.1,147.8" fill="#ffbf00"/><polygon points="329.6,154.4 322.2,157.1 315.4,154.2 322.8,151.5" fill="#ff8000"/><polygon points="272.4,179.9 265,189.6 258.2,186.7 265.6,177" fill="#50ffaf"/><polygon points="470.4,209.4 463.1,206.6 456.3,204.3 463.7,207.1" fill="#009fff"/><polygon points="392.9,181.7 385.6,178.9 378.8,176.6 386.2,179.4" fill="#ffaf00"/><polygon points="159.8,133.3 152.4,136 145.7,133.1 153.1,130.4" fill="#ff0000"/><polygon points="293.9,163.6 286.5,173.2 279.8,170.3 287.1,160.7" fill="#80ff80"/><polygon points="372,159.2 364.6,159.9 357.9,156.9 365.3,156.3" fill="#ffdf00"/><polygon points="343.7,154.7 336.4,157.3 329.6,154.4 337,151.8" fill="#ff7000"/><polygon points="357.9,156.9 350.5,157.6 343.7,154.7 351.1,154" fill="#ff8f00"/><polygon points="244.1,178.4 236.7,181.1 229.9,178.2 237.3,175.5" fill="#afff50"/><polygon points="456.3,204.3 448.9,201.5 442.1,199.2 449.5,202" fill="#00bfff"/><polygon points="124.2,141.7 116.8,143.1 110,147.2 117.4,144.5" fill="#ff8f00"/><polygon points="229.9,178.2 222.6,180.8 215.8,165.9 223.2,163.3" fill="#afff50"/><polygon points="442.1,199.2 434.8,196.4 428,194.1 435.4,196.9" fill="#00dfff"/><polygon points="138.3,142.1 130.9,143.5 124.2,141.7 131.5,140.3" fill="#ff8000"/><polygon points="89.1,118 81.7,120.7 74.9,117.8 82.3,115.1" fill="#800000"/><polygon points="265,189.6 257.6,199.2 250.9,196.3 258.2,186.7" fill="#60ff9f"/><polygon points="286.5,173.2 279.2,182.9 272.4,179.9 279.8,170.3" fill="#70ff8f"/><polygon points="308.1,156.8 300.7,166.5 293.9,163.6 301.3,153.9" fill="#ffff00"/><polygon points="201.7,165.6 194.3,168.3 187.5,165.4 194.9,162.7" fill="#cfff30"/><polygon points="428,194.1 420.6,191.4 413.9,189.1 421.2,191.8" fill="#9fff60"/><polygon points="95.9,148.9 88.5,147.6 81.7,120.7 89.1,118" fill="#ff5000"/><polygon points="378.8,176.6 371.4,173.8 364.6,159.9 372,159.2" fill="#ffdf00"/><polygon points="215.8,165.9 208.4,168.6 201.7,165.6 209,163" fill="#8fff70"/><polygon points="250.9,196.3 243.5,196 236.7,181.1 244.1,178.4" fill="#9fff60"/><polygon points="180.7,150.5 173.4,139.1 166.6,136.2 174,147.6" fill="#ff5000"/><polygon points="152.4,136 145.1,145 138.3,142.1 145.7,133.1" fill="#ff1000"/><polygon points="477.2,219.1 469.8,216.3 463.1,206.6 470.4,209.4" fill="#00efff"/><polygon points="413.9,189.1 406.5,186.3 399.7,184 407.1,186.8" fill="#cfff30"/><polygon points="322.2,157.1 314.8,159.7 308.1,156.8 315.4,154.2" fill="#ffaf00"/><polygon points="102.6,147.8 95.2,146.5 88.5,147.6 95.9,148.9" fill="#ff8f00"/><polygon points="336.4,157.3 329,160 322.2,157.1 329.6,154.4" fill="#ff7000"/><polygon points="279.2,182.9 271.8,192.5 265,189.6 272.4,179.9" fill="#70ff8f"/><polygon points="236.7,181.1 229.3,183.7 222.6,180.8 229.9,178.2" fill="#cfff30"/><polygon points="166.6,136.2 159.2,138.9 152.4,136 159.8,133.3" fill="#ff0000"/><polygon points="300.7,166.5 293.3,176.1 286.5,173.2 293.9,163.6" fill="#afff50"/><polygon points="399.7,184 392.3,181.2 385.6,178.9 392.9,181.7" fill="#ff8f00"/><polygon points="350.5,157.6 343.1,160.2 336.4,157.3 343.7,154.7" fill="#ff7000"/><polygon points="364.6,159.9 357.3,160.5 350.5,157.6 357.9,156.9" fill="#ff9f00"/><polygon points="116.8,143.1 109.4,144.5 102.6,147.8 110,147.2" fill="#ff8f00"/><polygon points="463.1,206.6 455.7,203.8 448.9,201.5 456.3,204.3" fill="#00dfff"/><polygon points="385.6,178.9 378.2,176.1 371.4,173.8 378.8,176.6" fill="#ffdf00"/><polygon points="257.6,199.2 250.2,197.3 243.5,196 250.9,196.3" fill="#50ffaf"/><polygon points="222.6,180.8 215.2,183.5 208.4,168.6 215.8,165.9" fill="#bfff40"/><polygon points="81.7,120.7 74.3,123.3 67.6,120.4 74.9,117.8" fill="#800000"/><polygon points="130.9,143.5 123.5,144.9 116.8,143.1 124.2,141.7" fill="#ff8f00"/><polygon points="448.9,201.5 441.5,198.8 434.8,196.4 442.1,199.2" fill="#00bfff"/><polygon points="271.8,192.5 264.4,202.1 257.6,199.2 265,189.6" fill="#60ff9f"/><polygon points="187.5,165.4 180.1,142 173.4,139.1 180.7,150.5" fill="#ffaf00"/><polygon points="145.1,145 137.7,146.4 130.9,143.5 138.3,142.1" fill="#ff3000"/><polygon points="293.3,176.1 285.9,185.8 279.2,182.9 286.5,173.2" fill="#80ff80"/><polygon points="314.8,159.7 307.4,169.4 300.7,166.5 308.1,156.8" fill="#ffdf00"/><polygon points="208.4,168.6 201,171.2 194.3,168.3 201.7,165.6" fill="#30ffcf"/><polygon points="243.5,196 236.1,198.6 229.3,183.7 236.7,181.1" fill="#cfff30"/><polygon points="434.8,196.4 427.4,193.7 420.6,191.4 428,194.1" fill="#60ff9f"/><polygon points="88.5,147.6 81.1,146.2 74.3,123.3 81.7,120.7" fill="#ff4000"/><polygon points="159.2,138.9 151.8,148.7 145.1,145 152.4,136" fill="#ff1000"/><polygon points="371.4,173.8 364,171 357.3,160.5 364.6,159.9" fill="#ffbf00"/><polygon points="420.6,191.4 413.2,188.6 406.5,186.3 413.9,189.1" fill="#cfff30"/><polygon points="329,160 321.6,162.6 314.8,159.7 322.2,157.1" fill="#ff8f00"/><polygon points="229.3,183.7 221.9,186.4 215.2,183.5 222.6,180.8" fill="#cfff30"/><polygon points="343.1,160.2 335.7,162.9 329,160 336.4,157.3" fill="#ff7000"/><polygon points="285.9,185.8 278.5,195.4 271.8,192.5 279.2,182.9" fill="#80ff80"/><polygon points="173.4,139.1 166,141.8 159.2,138.9 166.6,136.2" fill="#ff1000"/><polygon points="307.4,169.4 300.1,179 293.3,176.1 300.7,166.5" fill="#dfff20"/><polygon points="469.8,216.3 462.4,213.5 455.7,203.8 463.1,206.6" fill="#00cfff"/><polygon points="357.3,160.5 349.9,163.1 343.1,160.2 350.5,157.6" fill="#ff8f00"/><polygon points="406.5,186.3 399.1,183.5 392.3,181.2 399.7,184" fill="#ffaf00"/><polygon points="95.2,146.5 87.9,145.1 81.1,146.2 88.5,147.6" fill="#ff7000"/><polygon points="215.2,183.5 207.8,186.1 201,171.2 208.4,168.6" fill="#80ff80"/><polygon points="264.4,202.1 257,205.4 250.2,197.3 257.6,199.2" fill="#50ffaf"/><polygon points="109.4,144.5 102,145.9 95.2,146.5 102.6,147.8" fill="#ffaf00"/><polygon points="74.3,123.3 67,126 60.2,123.1 67.6,120.4" fill="#800000"/><polygon points="250.2,197.3 242.9,199.9 236.1,198.6 243.5,196" fill="#8fff70"/><polygon points="194.3,168.3 186.9,144.9 180.1,142 187.5,165.4" fill="#ffdf00"/><polygon points="392.3,181.2 384.9,178.4 378.2,176.1 385.6,178.9" fill="#ffaf00"/><polygon points="123.5,144.9 116.2,146.2 109.4,144.5 116.8,143.1" fill="#ff8f00"/><polygon points="278.5,195.4 271.2,205.1 264.4,202.1 271.8,192.5" fill="#70ff8f"/><polygon points="151.8,148.7 144.4,150.1 137.7,146.4 145.1,145" fill="#ff1000"/><polygon points="137.7,146.4 130.3,147.8 123.5,144.9 130.9,143.5" fill="#ff8000"/><polygon points="455.7,203.8 448.3,201.1 441.5,198.8 448.9,201.5" fill="#00bfff"/><polygon points="300.1,179 292.7,188.7 285.9,185.8 293.3,176.1" fill="#9fff60"/><polygon points="378.2,176.1 370.8,173.4 364,171 371.4,173.8" fill="#ffaf00"/><polygon points="236.1,198.6 228.7,201.3 221.9,186.4 229.3,183.7" fill="#bfff40"/><polygon points="321.6,162.6 314.2,172.3 307.4,169.4 314.8,159.7" fill="#ffcf00"/><polygon points="166,141.8 158.6,154.8 151.8,148.7 159.2,138.9" fill="#ff2000"/><polygon points="441.5,198.8 434.2,196 427.4,193.7 434.8,196.4" fill="#00efff"/><polygon points="81.1,146.2 73.7,144.9 67,126 74.3,123.3" fill="#ff2000"/><polygon points="221.9,186.4 214.6,189 207.8,186.1 215.2,183.5" fill="#afff50"/><polygon points="335.7,162.9 328.4,165.5 321.6,162.6 329,160" fill="#ff8000"/><polygon points="364,171 356.7,168.3 349.9,163.1 357.3,160.5" fill="#ff9f00"/><polygon points="427.4,193.7 420,190.9 413.2,188.6 420.6,191.4" fill="#afff50"/><polygon points="201,171.2 193.7,171.1 186.9,144.9 194.3,168.3" fill="#efff10"/><polygon points="349.9,163.1 342.5,165.8 335.7,162.9 343.1,160.2" fill="#ff7000"/><polygon points="292.7,188.7 285.3,198.3 278.5,195.4 285.9,185.8" fill="#afff50"/><polygon points="180.1,142 172.7,144.7 166,141.8 173.4,139.1" fill="#ff4000"/><polygon points="314.2,172.3 306.8,181.9 300.1,179 307.4,169.4" fill="#efff10"/><polygon points="67,126 59.6,132.6 52.8,125.7 60.2,123.1" fill="#800000"/><polygon points="413.2,188.6 405.9,185.8 399.1,183.5 406.5,186.3" fill="#bfff40"/><polygon points="271.2,205.1 263.8,208.3 257,205.4 264.4,202.1" fill="#60ff9f"/><polygon points="257,205.4 249.6,208 242.9,199.9 250.2,197.3" fill="#50ffaf"/><polygon points="87.9,145.1 80.5,146.2 73.7,144.9 81.1,146.2" fill="#ff6000"/><polygon points="242.9,199.9 235.5,200.2 228.7,201.3 236.1,198.6" fill="#9fff60"/><polygon points="462.4,213.5 455.1,210.8 448.3,201.1 455.7,203.8" fill="#00afff"/><polygon points="102,145.9 94.6,147.3 87.9,145.1 95.2,146.5" fill="#ff8f00"/><polygon points="207.8,186.1 200.4,178 193.7,171.1 201,171.2" fill="#40ffbf"/><polygon points="158.6,154.8 151.2,156.2 144.4,150.1 151.8,148.7" fill="#ff3000"/><polygon points="399.1,183.5 391.7,180.7 384.9,178.4 392.3,181.2" fill="#ff8f00"/><polygon points="116.2,146.2 108.8,147.6 102,145.9 109.4,144.5" fill="#ff8f00"/><polygon points="228.7,201.3 221.3,203.9 214.6,189 221.9,186.4" fill="#afff50"/><polygon points="144.4,150.1 137.1,151.5 130.3,147.8 137.7,146.4" fill="#ff3000"/><polygon points="285.3,198.3 277.9,208 271.2,205.1 278.5,195.4" fill="#80ff80"/><polygon points="130.3,147.8 122.9,149.2 116.2,146.2 123.5,144.9" fill="#ff8f00"/><polygon points="306.8,181.9 299.4,191.6 292.7,188.7 300.1,179" fill="#cfff30"/><polygon points="384.9,178.4 377.6,175.7 370.8,173.4 378.2,176.1" fill="#ffef00"/><polygon points="172.7,144.7 165.4,160.9 158.6,154.8 166,141.8" fill="#ff7000"/><polygon points="328.4,165.5 321,175.2 314.2,172.3 321.6,162.6" fill="#ffbf00"/><polygon points="73.7,144.9 66.3,140.3 59.6,132.6 67,126" fill="#ff0000"/><polygon points="448.3,201.1 440.9,198.3 434.2,196 441.5,198.8" fill="#00bfff"/><polygon points="370.8,173.4 363.4,170.6 356.7,168.3 364,171" fill="#ff8f00"/><polygon points="356.7,168.3 349.3,176.5 342.5,165.8 349.9,163.1" fill="#ff8000"/><polygon points="342.5,165.8 335.1,168.4 328.4,165.5 335.7,162.9" fill="#ff7000"/><polygon points="434.2,196 426.8,193.2 420,190.9 427.4,193.7" fill="#60ff9f"/><polygon points="299.4,191.6 292.1,201.2 285.3,198.3 292.7,188.7" fill="#cfff30"/><polygon points="214.6,189 207.2,185.3 200.4,178 207.8,186.1" fill="#70ff8f"/><polygon points="263.8,208.3 256.4,210.9 249.6,208 257,205.4" fill="#50ffaf"/><polygon points="186.9,144.9 179.5,147.6 172.7,144.7 180.1,142" fill="#ff8f00"/><polygon points="321,175.2 313.6,184.8 306.8,181.9 314.2,172.3" fill="#ffef00"/><polygon points="277.9,208 270.5,216.4 263.8,208.3 271.2,205.1" fill="#60ff9f"/><polygon points="165.4,160.9 158,162.3 151.2,156.2 158.6,154.8" fill="#ff8000"/><polygon points="235.5,200.2 228.1,205.2 221.3,203.9 228.7,201.3" fill="#bfff40"/><polygon points="420,190.9 412.6,188.1 405.9,185.8 413.2,188.6" fill="#cfff30"/><polygon points="249.6,208 242.2,208.3 235.5,200.2 242.9,199.9" fill="#60ff9f"/><polygon points="221.3,203.9 214,217.8 207.2,185.3 214.6,189" fill="#8fff70"/><polygon points="193.7,171.1 186.3,172.5 179.5,147.6 186.9,144.9" fill="#ff9f00"/><polygon points="151.2,156.2 143.8,157.6 137.1,151.5 144.4,150.1" fill="#ff3000"/><polygon points="94.6,147.3 87.2,148.7 80.5,146.2 87.9,145.1" fill="#ff7000"/><polygon points="80.5,146.2 73.1,147.6 66.3,140.3 73.7,144.9" fill="#ff4000"/><polygon points="405.9,185.8 398.5,183 391.7,180.7 399.1,183.5" fill="#ff9f00"/><polygon points="108.8,147.6 101.4,149 94.6,147.3 102,145.9" fill="#ffaf00"/><polygon points="349.3,176.5 341.9,193 335.1,168.4 342.5,165.8" fill="#ff7000"/><polygon points="137.1,151.5 129.7,152.9 122.9,149.2 130.3,147.8" fill="#ff8f00"/><polygon points="122.9,149.2 115.5,150.6 108.8,147.6 116.2,146.2" fill="#ff8f00"/><polygon points="292.1,201.2 284.7,210.9 277.9,208 285.3,198.3" fill="#8fff70"/><polygon points="179.5,147.6 172.1,166.2 165.4,160.9 172.7,144.7" fill="#ff8f00"/><polygon points="200.4,178 193,179.4 186.3,172.5 193.7,171.1" fill="#bfff40"/><polygon points="313.6,184.8 306.2,194.5 299.4,191.6 306.8,181.9" fill="#efff10"/><polygon points="455.1,210.8 447.7,208 440.9,198.3 448.3,201.1" fill="#00afff"/><polygon points="335.1,168.4 327.7,178.1 321,175.2 328.4,165.5" fill="#ffaf00"/><polygon points="391.7,180.7 384.3,178 377.6,175.7 384.9,178.4" fill="#ffbf00"/><polygon points="363.4,170.6 356,179.4 349.3,176.5 356.7,168.3" fill="#ff8f00"/><polygon points="377.6,175.7 370.2,172.9 363.4,170.6 370.8,173.4" fill="#ff9f00"/><polygon points="341.9,193 334.5,207.8 327.7,178.1 335.1,168.4" fill="#ffaf00"/><polygon points="228.1,205.2 220.7,207.9 214,217.8 221.3,203.9" fill="#bfff40"/><polygon points="270.5,216.4 263.2,219.1 256.4,210.9 263.8,208.3" fill="#50ffaf"/><polygon points="356,179.4 348.7,195.9 341.9,193 349.3,176.5" fill="#ff8f00"/><polygon points="172.1,166.2 164.7,167.6 158,162.3 165.4,160.9" fill="#ff8000"/><polygon points="284.7,210.9 277.3,219.3 270.5,216.4 277.9,208" fill="#80ff80"/><polygon points="306.2,194.5 298.8,204.1 292.1,201.2 299.4,191.6" fill="#efff10"/><polygon points="440.9,198.3 433.5,195.5 426.8,193.2 434.2,196" fill="#00efff"/><polygon points="256.4,210.9 249,211.2 242.2,208.3 249.6,208" fill="#50ffaf"/><polygon points="186.3,172.5 178.9,173.9 172.1,166.2 179.5,147.6" fill="#ff8f00"/><polygon points="327.7,178.1 320.4,187.7 313.6,184.8 321,175.2" fill="#ffff00"/><polygon points="348.7,195.9 341.3,210.7 334.5,207.8 341.9,193" fill="#ffef00"/><polygon points="242.2,208.3 234.9,213.3 228.1,205.2 235.5,200.2" fill="#80ff80"/><polygon points="334.5,207.8 327.1,222.8 320.4,187.7 327.7,178.1" fill="#ffef00"/><polygon points="158,162.3 150.6,163.7 143.8,157.6 151.2,156.2" fill="#ff8000"/><polygon points="214,217.8 206.6,219.2 199.8,186.7 207.2,185.3" fill="#80ff80"/><polygon points="341.3,210.7 333.9,225.7 327.1,222.8 334.5,207.8" fill="#8fff70"/><polygon points="426.8,193.2 419.4,190.4 412.6,188.1 420,190.9" fill="#bfff40"/><polygon points="207.2,185.3 199.8,186.7 193,179.4 200.4,178" fill="#50ffaf"/><polygon points="143.8,157.6 136.5,159 129.7,152.9 137.1,151.5" fill="#ff4000"/><polygon points="333.9,225.7 326.5,240.9 319.7,238 327.1,222.8" fill="#30ffcf"/><polygon points="87.2,148.7 79.9,150.1 73.1,147.6 80.5,146.2" fill="#ff5000"/><polygon points="101.4,149 94,150.4 87.2,148.7 94.6,147.3" fill="#ff8f00"/><polygon points="412.6,188.1 405.2,185.4 398.5,183 405.9,185.8" fill="#bfff40"/><polygon points="327.1,222.8 319.7,238 313,197.4 320.4,187.7" fill="#8fff70"/><polygon points="129.7,152.9 122.3,154.3 115.5,150.6 122.9,149.2" fill="#ff8f00"/><polygon points="115.5,150.6 108.2,151.9 101.4,149 108.8,147.6" fill="#ff9f00"/><polygon points="298.8,204.1 291.5,213.8 284.7,210.9 292.1,201.2" fill="#9fff60"/><polygon points="326.5,240.9 319.1,255.5 312.4,252.6 319.7,238" fill="#00bfff"/><polygon points="193,179.4 185.7,180.8 178.9,173.9 186.3,172.5" fill="#ffdf00"/><polygon points="320.4,187.7 313,197.4 306.2,194.5 313.6,184.8" fill="#efff10"/><polygon points="319.1,255.5 311.7,270.3 305,267.4 312.4,252.6" fill="#0060ff"/><polygon points="398.5,183 391.1,180.3 384.3,178 391.7,180.7" fill="#ff8f00"/><polygon points="220.7,207.9 213.3,208.1 206.6,219.2 214,217.8" fill="#8fff70"/><polygon points="370.2,172.9 362.8,182.3 356,179.4 363.4,170.6" fill="#ff8f00"/><polygon points="277.3,219.3 269.9,222 263.2,219.1 270.5,216.4" fill="#70ff8f"/><polygon points="319.7,238 312.4,252.6 305.6,207 313,197.4" fill="#10ffef"/><polygon points="178.9,173.9 171.5,175.3 164.7,167.6 172.1,166.2" fill="#ff8000"/><polygon points="447.7,208 440.3,205.2 433.5,195.5 440.9,198.3" fill="#00bfff"/><polygon points="311.7,270.3 304.4,283.4 297.6,280.5 305,267.4" fill="#0040ff"/><polygon points="384.3,178 376.9,175.2 370.2,172.9 377.6,175.7" fill="#ffff00"/><polygon points="263.2,219.1 255.8,219.3 249,211.2 256.4,210.9" fill="#50ffaf"/><polygon points="291.5,213.8 284.1,227.4 277.3,219.3 284.7,210.9" fill="#60ff9f"/><polygon points="234.9,213.3 227.5,216 220.7,207.9 228.1,205.2" fill="#8fff70"/><polygon points="249,211.2 241.6,216.2 234.9,213.3 242.2,208.3" fill="#50ffaf"/><polygon points="164.7,167.6 157.4,169 150.6,163.7 158,162.3" fill="#ff7000"/><polygon points="362.8,182.3 355.4,198.8 348.7,195.9 356,179.4" fill="#ff8f00"/><polygon points="313,197.4 305.6,207 298.8,204.1 306.2,194.5" fill="#dfff20"/><polygon points="312.4,252.6 305,267.4 298.2,216.7 305.6,207" fill="#009fff"/><polygon points="355.4,198.8 348,213.6 341.3,210.7 348.7,195.9" fill="#ffff00"/><polygon points="150.6,163.7 143.2,165.1 136.5,159 143.8,157.6" fill="#ff6000"/><polygon points="206.6,219.2 199.2,220.6 192.4,188.1 199.8,186.7" fill="#50ffaf"/><polygon points="348,213.6 340.7,228.6 333.9,225.7 341.3,210.7" fill="#afff50"/><polygon points="199.8,186.7 192.4,188.1 185.7,180.8 193,179.4" fill="#40ffbf"/><polygon points="433.5,195.5 426.2,192.7 419.4,190.4 426.8,193.2" fill="#60ff9f"/><polygon points="136.5,159 129.1,160.4 122.3,154.3 129.7,152.9" fill="#ff8f00"/><polygon points="340.7,228.6 333.3,243.8 326.5,240.9 333.9,225.7" fill="#40ffbf"/><polygon points="304.4,283.4 297,287.6 290.2,284.7 297.6,280.5" fill="#0020ff"/><polygon points="94,150.4 86.6,151.8 79.9,150.1 87.2,148.7" fill="#ff6000"/><polygon points="122.3,154.3 114.9,155.7 108.2,151.9 115.5,150.6" fill="#ff8f00"/><polygon points="108.2,151.9 100.8,153.3 94,150.4 101.4,149" fill="#ff9f00"/><polygon points="419.4,190.4 412,187.7 405.2,185.4 412.6,188.1" fill="#bfff40"/><polygon points="305.6,207 298.2,216.7 291.5,213.8 298.8,204.1" fill="#8fff70"/><polygon points="185.7,180.8 178.3,182.2 171.5,175.3 178.9,173.9" fill="#ff8000"/><polygon points="333.3,243.8 325.9,258.4 319.1,255.5 326.5,240.9" fill="#00bfff"/><polygon points="305,267.4 297.6,280.5 290.8,218.3 298.2,216.7" fill="#0040ff"/><polygon points="284.1,227.4 276.7,230.1 269.9,222 277.3,219.3" fill="#20ffdf"/><polygon points="213.3,208.1 206,213.2 199.2,220.6 206.6,219.2" fill="#70ff8f"/><polygon points="325.9,258.4 318.5,273.2 311.7,270.3 319.1,255.5" fill="#008fff"/><polygon points="405.2,185.4 397.9,182.6 391.1,180.3 398.5,183" fill="#ff9f00"/><polygon points="269.9,222 262.5,222.2 255.8,219.3 263.2,219.1" fill="#50ffaf"/><polygon points="376.9,175.2 369.6,185.3 362.8,182.3 370.2,172.9" fill="#ff8f00"/><polygon points="171.5,175.3 164.1,176.7 157.4,169 164.7,167.6" fill="#ff7000"/><polygon points="241.6,216.2 234.2,218.9 227.5,216 234.9,213.3" fill="#70ff8f"/><polygon points="255.8,219.3 248.4,224.3 241.6,216.2 249,211.2" fill="#30ffcf"/><polygon points="318.5,273.2 311.1,286.3 304.4,283.4 311.7,270.3" fill="#0050ff"/><polygon points="391.1,180.3 383.7,177.5 376.9,175.2 384.3,178" fill="#ffcf00"/><polygon points="227.5,216 220.1,216.2 213.3,208.1 220.7,207.9" fill="#9fff60"/><polygon points="157.4,169 150,170.4 143.2,165.1 150.6,163.7" fill="#ff8000"/><polygon points="369.6,185.3 362.2,201.7 355.4,198.8 362.8,182.3" fill="#ff9f00"/><polygon points="298.2,216.7 290.8,218.3 284.1,227.4 291.5,213.8" fill="#00cfff"/><polygon points="440.3,205.2 432.9,202.4 426.2,192.7 433.5,195.5" fill="#00ffff"/><polygon points="362.2,201.7 354.8,216.5 348,213.6 355.4,198.8" fill="#efff10"/><polygon points="143.2,165.1 135.8,166.5 129.1,160.4 136.5,159" fill="#ff8f00"/><polygon points="199.2,220.6 191.8,222 185,189.5 192.4,188.1" fill="#40ffbf"/><polygon points="354.8,216.5 347.4,231.5 340.7,228.6 348,213.6" fill="#9fff60"/><polygon points="192.4,188.1 185,189.5 178.3,182.2 185.7,180.8" fill="#cfff30"/><polygon points="297.6,280.5 290.2,284.7 283.5,223 290.8,218.3" fill="#0000ff"/><polygon points="297,287.6 289.6,289.5 282.8,286.6 290.2,284.7" fill="#0010ff"/><polygon points="129.1,160.4 121.7,161.8 114.9,155.7 122.3,154.3" fill="#ff8f00"/><polygon points="347.4,231.5 340,246.8 333.3,243.8 340.7,228.6" fill="#40ffbf"/><polygon points="311.1,286.3 303.8,290.6 297,287.6 304.4,283.4" fill="#0020ff"/><polygon points="114.9,155.7 107.5,157.1 100.8,153.3 108.2,151.9" fill="#ff8f00"/><polygon points="100.8,153.3 93.4,154.7 86.6,151.8 94,150.4" fill="#ff7000"/><polygon points="178.3,182.2 170.9,183.6 164.1,176.7 171.5,175.3" fill="#ff7000"/><polygon points="340,246.8 332.7,261.3 325.9,258.4 333.3,243.8" fill="#00cfff"/><polygon points="426.2,192.7 418.8,190 412,187.7 419.4,190.4" fill="#bfff40"/><polygon points="206,213.2 198.6,215.8 191.8,222 199.2,220.6" fill="#50ffaf"/><polygon points="276.7,230.1 269.3,230.3 262.5,222.2 269.9,222" fill="#30ffcf"/><polygon points="248.4,224.3 241,227 234.2,218.9 241.6,216.2" fill="#60ff9f"/><polygon points="262.5,222.2 255.2,227.3 248.4,224.3 255.8,219.3" fill="#40ffbf"/><polygon points="332.7,261.3 325.3,276.1 318.5,273.2 325.9,258.4" fill="#009fff"/><polygon points="412,187.7 404.6,184.9 397.9,182.6 405.2,185.4" fill="#afff50"/><polygon points="164.1,176.7 156.7,178.1 150,170.4 157.4,169" fill="#ff6000"/><polygon points="290.8,218.3 283.5,223 276.7,230.1 284.1,227.4" fill="#0070ff"/><polygon points="383.7,177.5 376.3,188.2 369.6,185.3 376.9,175.2" fill="#ff8f00"/><polygon points="234.2,218.9 226.9,219.1 220.1,216.2 227.5,216" fill="#50ffaf"/><polygon points="220.1,216.2 212.7,221.3 206,213.2 213.3,208.1" fill="#80ff80"/><polygon points="325.3,276.1 317.9,289.2 311.1,286.3 318.5,273.2" fill="#0060ff"/><polygon points="397.9,182.6 390.5,179.8 383.7,177.5 391.1,180.3" fill="#ff8f00"/><polygon points="150,170.4 142.6,171.8 135.8,166.5 143.2,165.1" fill="#ff9f00"/><polygon points="376.3,188.2 369,204.6 362.2,201.7 369.6,185.3" fill="#ffaf00"/><polygon points="290.2,284.7 282.8,286.6 276.1,227.6 283.5,223" fill="#0000ef"/><polygon points="369,204.6 361.6,219.4 354.8,216.5 362.2,201.7" fill="#efff10"/><polygon points="135.8,166.5 128.5,167.9 121.7,161.8 129.1,160.4" fill="#ff9f00"/><polygon points="191.8,222 184.4,223.4 177.7,190.9 185,189.5" fill="#20ffdf"/><polygon points="185,189.5 177.7,190.9 170.9,183.6 178.3,182.2" fill="#9fff60"/><polygon points="361.6,219.4 354.2,234.4 347.4,231.5 354.8,216.5" fill="#9fff60"/><polygon points="289.6,289.5 282.2,291.1 275.5,288.2 282.8,286.6" fill="#0000ff"/><polygon points="303.8,290.6 296.4,292.4 289.6,289.5 297,287.6" fill="#0000ff"/><polygon points="121.7,161.8 114.3,163.2 107.5,157.1 114.9,155.7" fill="#ff8f00"/><polygon points="432.9,202.4 425.5,199.7 418.8,190 426.2,192.7" fill="#50ffaf"/><polygon points="354.2,234.4 346.8,249.7 340,246.8 347.4,231.5" fill="#40ffbf"/><polygon points="317.9,289.2 310.5,293.5 303.8,290.6 311.1,286.3" fill="#0020ff"/><polygon points="107.5,157.1 100.2,158.4 93.4,154.7 100.8,153.3" fill="#ff8000"/><polygon points="255.2,227.3 247.8,229.9 241,227 248.4,224.3" fill="#30ffcf"/><polygon points="269.3,230.3 261.9,235.4 255.2,227.3 262.5,222.2" fill="#30ffcf"/><polygon points="170.9,183.6 163.5,185 156.7,178.1 164.1,176.7" fill="#ff7000"/><polygon points="346.8,249.7 339.4,264.2 332.7,261.3 340,246.8" fill="#00dfff"/><polygon points="198.6,215.8 191.2,216.1 184.4,223.4 191.8,222" fill="#50ffaf"/><polygon points="241,227 233.6,227.2 226.9,219.1 234.2,218.9" fill="#30ffcf"/><polygon points="283.5,223 276.1,227.6 269.3,230.3 276.7,230.1" fill="#00afff"/><polygon points="339.4,264.2 332,279 325.3,276.1 332.7,261.3" fill="#009fff"/><polygon points="212.7,221.3 205.3,223.9 198.6,215.8 206,213.2" fill="#50ffaf"/><polygon points="226.9,219.1 219.5,224.2 212.7,221.3 220.1,216.2" fill="#50ffaf"/><polygon points="156.7,178.1 149.4,179.5 142.6,171.8 150,170.4" fill="#ff7000"/><polygon points="390.5,179.8 383.1,191.1 376.3,188.2 383.7,177.5" fill="#ff8f00"/><polygon points="418.8,190 411.4,187.2 404.6,184.9 412,187.7" fill="#bfff40"/><polygon points="282.8,286.6 275.5,288.2 268.7,240.3 276.1,227.6" fill="#0000ef"/><polygon points="332,279 324.7,292.2 317.9,289.2 325.3,276.1" fill="#0060ff"/><polygon points="142.6,171.8 135.2,173.2 128.5,167.9 135.8,166.5" fill="#ffaf00"/><polygon points="383.1,191.1 375.7,207.5 369,204.6 376.3,188.2" fill="#ffbf00"/><polygon points="404.6,184.9 397.2,182.1 390.5,179.8 397.9,182.6" fill="#ff9f00"/><polygon points="375.7,207.5 368.3,222.3 361.6,219.4 369,204.6" fill="#dfff20"/><polygon points="128.5,167.9 121.1,169.3 114.3,163.2 121.7,161.8" fill="#ff9f00"/><polygon points="184.4,223.4 177,224.8 170.3,192.3 177.7,190.9" fill="#00ffff"/><polygon points="177.7,190.9 170.3,192.3 163.5,185 170.9,183.6" fill="#cfff30"/><polygon points="368.3,222.3 361,237.3 354.2,234.4 361.6,219.4" fill="#8fff70"/><polygon points="296.4,292.4 289,294.1 282.2,291.1 289.6,289.5" fill="#0000ff"/><polygon points="282.2,291.1 274.8,291.9 268.1,289 275.5,288.2" fill="#0000ff"/><polygon points="310.5,293.5 303.1,295.3 296.4,292.4 303.8,290.6" fill="#0010ff"/><polygon points="261.9,235.4 254.5,238 247.8,229.9 255.2,227.3" fill="#30ffcf"/><polygon points="114.3,163.2 106.9,164.6 100.2,158.4 107.5,157.1" fill="#ff7000"/><polygon points="361,237.3 353.6,252.6 346.8,249.7 354.2,234.4" fill="#30ffcf"/><polygon points="276.1,227.6 268.7,240.3 261.9,235.4 269.3,230.3" fill="#00afff"/><polygon points="324.7,292.2 317.3,296.4 310.5,293.5 317.9,289.2" fill="#0030ff"/><polygon points="247.8,229.9 240.4,230.1 233.6,227.2 241,227" fill="#50ffaf"/><polygon points="163.5,185 156.1,186.4 149.4,179.5 156.7,178.1" fill="#ff6000"/><polygon points="191.2,216.1 183.8,221.1 177,224.8 184.4,223.4" fill="#20ffdf"/><polygon points="353.6,252.6 346.2,267.1 339.4,264.2 346.8,249.7" fill="#00dfff"/><polygon points="219.5,224.2 212.1,226.8 205.3,223.9 212.7,221.3" fill="#30ffcf"/><polygon points="233.6,227.2 226.3,232.3 219.5,224.2 226.9,219.1" fill="#30ffcf"/><polygon points="425.5,199.7 418.2,196.9 411.4,187.2 418.8,190" fill="#afff50"/><polygon points="346.2,267.1 338.8,282 332,279 339.4,264.2" fill="#009fff"/><polygon points="205.3,223.9 198,224.2 191.2,216.1 198.6,215.8" fill="#50ffaf"/><polygon points="275.5,288.2 268.1,289 261.3,236.9 268.7,240.3" fill="#0000ef"/><polygon points="149.4,179.5 142,180.9 135.2,173.2 142.6,171.8" fill="#ff8f00"/><polygon points="397.2,182.1 389.9,194 383.1,191.1 390.5,179.8" fill="#ff8f00"/><polygon points="338.8,282 331.4,295.1 324.7,292.2 332,279" fill="#0060ff"/><polygon points="135.2,173.2 127.8,174.6 121.1,169.3 128.5,167.9" fill="#ffaf00"/><polygon points="389.9,194 382.5,210.4 375.7,207.5 383.1,191.1" fill="#ffcf00"/><polygon points="411.4,187.2 404,184.4 397.2,182.1 404.6,184.9" fill="#bfff40"/><polygon points="382.5,210.4 375.1,225.2 368.3,222.3 375.7,207.5" fill="#dfff20"/><polygon points="121.1,169.3 113.7,170.7 106.9,164.6 114.3,163.2" fill="#ff7000"/><polygon points="177,224.8 169.7,226.2 162.9,193.7 170.3,192.3" fill="#00ffff"/><polygon points="268.7,240.3 261.3,236.9 254.5,238 261.9,235.4" fill="#0040ff"/><polygon points="170.3,192.3 162.9,193.7 156.1,186.4 163.5,185" fill="#ffaf00"/><polygon points="375.1,225.2 367.7,240.2 361,237.3 368.3,222.3" fill="#9fff60"/><polygon points="303.1,295.3 295.8,297 289,294.1 296.4,292.4" fill="#0000ff"/><polygon points="289,294.1 281.6,294.8 274.8,291.9 282.2,291.1" fill="#0000ff"/><polygon points="317.3,296.4 309.9,298.2 303.1,295.3 310.5,293.5" fill="#0020ff"/><polygon points="254.5,238 247.2,238.3 240.4,230.1 247.8,229.9" fill="#30ffcf"/><polygon points="274.8,291.9 267.5,292 260.7,289.1 268.1,289" fill="#0000ef"/><polygon points="367.7,240.2 360.3,255.5 353.6,252.6 361,237.3" fill="#20ffdf"/><polygon points="226.3,232.3 218.9,234.9 212.1,226.8 219.5,224.2" fill="#00ffff"/><polygon points="240.4,230.1 233,235.2 226.3,232.3 233.6,227.2" fill="#30ffcf"/><polygon points="331.4,295.1 324,299.3 317.3,296.4 324.7,292.2" fill="#0030ff"/><polygon points="183.8,221.1 176.4,223.8 169.7,226.2 177,224.8" fill="#00ffff"/><polygon points="156.1,186.4 148.8,187.8 142,180.9 149.4,179.5" fill="#ff9f00"/><polygon points="360.3,255.5 353,270.1 346.2,267.1 353.6,252.6" fill="#00cfff"/><polygon points="212.1,226.8 204.7,227.1 198,224.2 205.3,223.9" fill="#40ffbf"/><polygon points="198,224.2 190.6,229.2 183.8,221.1 191.2,216.1" fill="#40ffbf"/><polygon points="353,270.1 345.6,284.9 338.8,282 346.2,267.1" fill="#008fff"/><polygon points="142,180.9 134.6,182.3 127.8,174.6 135.2,173.2" fill="#ffbf00"/><polygon points="268.1,289 260.7,289.1 253.9,241.6 261.3,236.9" fill="#0000df"/><polygon points="404,184.4 396.6,196.9 389.9,194 397.2,182.1" fill="#ff9f00"/><polygon points="418.2,196.9 410.8,194.1 404,184.4 411.4,187.2" fill="#efff10"/><polygon points="345.6,284.9 338.2,298 331.4,295.1 338.8,282" fill="#0050ff"/><polygon points="127.8,174.6 120.5,176 113.7,170.7 121.1,169.3" fill="#ff8f00"/><polygon points="396.6,196.9 389.2,213.3 382.5,210.4 389.9,194" fill="#ffff00"/><polygon points="389.2,213.3 381.9,228.1 375.1,225.2 382.5,210.4" fill="#dfff20"/><polygon points="169.7,226.2 162.3,227.6 155.5,195.1 162.9,193.7" fill="#00efff"/><polygon points="261.3,236.9 253.9,241.6 247.2,238.3 254.5,238" fill="#00bfff"/><polygon points="162.9,193.7 155.5,195.1 148.8,187.8 156.1,186.4" fill="#ffdf00"/><polygon points="233,235.2 225.6,237.8 218.9,234.9 226.3,232.3" fill="#20ffdf"/><polygon points="247.2,238.3 239.8,243.3 233,235.2 240.4,230.1" fill="#30ffcf"/><polygon points="381.9,228.1 374.5,243.1 367.7,240.2 375.1,225.2" fill="#9fff60"/><polygon points="309.9,298.2 302.5,299.9 295.8,297 303.1,295.3" fill="#0000ff"/><polygon points="295.8,297 288.4,297.7 281.6,294.8 289,294.1" fill="#0000ef"/><polygon points="324,299.3 316.7,301.1 309.9,298.2 317.3,296.4" fill="#0020ff"/><polygon points="281.6,294.8 274.2,294.9 267.5,292 274.8,291.9" fill="#0000ff"/><polygon points="218.9,234.9 211.5,235.2 204.7,227.1 212.1,226.8" fill="#10ffef"/><polygon points="374.5,243.1 367.1,258.4 360.3,255.5 367.7,240.2" fill="#30ffcf"/><polygon points="267.5,292 260.1,292.3 253.3,289.4 260.7,289.1" fill="#0000ef"/><polygon points="176.4,223.8 169,224 162.3,227.6 169.7,226.2" fill="#00efff"/><polygon points="338.2,298 330.8,302.2 324,299.3 331.4,295.1" fill="#0030ff"/><polygon points="190.6,229.2 183.2,231.9 176.4,223.8 183.8,221.1" fill="#20ffdf"/><polygon points="204.7,227.1 197.3,232.1 190.6,229.2 198,224.2" fill="#40ffbf"/><polygon points="148.8,187.8 141.4,189.2 134.6,182.3 142,180.9" fill="#ff7000"/><polygon points="367.1,258.4 359.7,273 353,270.1 360.3,255.5" fill="#00bfff"/><polygon points="359.7,273 352.3,287.8 345.6,284.9 353,270.1" fill="#0080ff"/><polygon points="260.7,289.1 253.3,289.4 246.5,248.2 253.9,241.6" fill="#0000ef"/><polygon points="134.6,182.3 127.2,183.7 120.5,176 127.8,174.6" fill="#ffcf00"/><polygon points="410.8,194.1 403.4,199.8 396.6,196.9 404,184.4" fill="#ffef00"/><polygon points="352.3,287.8 345,300.9 338.2,298 345.6,284.9" fill="#0020ff"/><polygon points="403.4,199.8 396,216.2 389.2,213.3 396.6,196.9" fill="#dfff20"/><polygon points="253.9,241.6 246.5,248.2 239.8,243.3 247.2,238.3" fill="#00bfff"/><polygon points="239.8,243.3 232.4,245.9 225.6,237.8 233,235.2" fill="#30ffcf"/><polygon points="396,216.2 388.6,231.1 381.9,228.1 389.2,213.3" fill="#bfff40"/><polygon points="162.3,227.6 154.9,229 148.1,196.5 155.5,195.1" fill="#00dfff"/><polygon points="155.5,195.1 148.1,196.5 141.4,189.2 148.8,187.8" fill="#bfff40"/><polygon points="225.6,237.8 218.3,238.1 211.5,235.2 218.9,234.9" fill="#10ffef"/><polygon points="388.6,231.1 381.3,246 374.5,243.1 381.9,228.1" fill="#80ff80"/><polygon points="316.7,301.1 309.3,302.8 302.5,299.9 309.9,298.2" fill="#0010ff"/><polygon points="302.5,299.9 295.1,300.6 288.4,297.7 295.8,297" fill="#0000ef"/><polygon points="197.3,232.1 190,234.8 183.2,231.9 190.6,229.2" fill="#40ffbf"/><polygon points="211.5,235.2 204.1,240.2 197.3,232.1 204.7,227.1" fill="#20ffdf"/><polygon points="330.8,302.2 323.4,304 316.7,301.1 324,299.3" fill="#0010ff"/><polygon points="288.4,297.7 281,297.8 274.2,294.9 281.6,294.8" fill="#0000ff"/><polygon points="169,224 161.7,229.1 154.9,229 162.3,227.6" fill="#00cfff"/><polygon points="381.3,246 373.9,261.3 367.1,258.4 374.5,243.1" fill="#10ffef"/><polygon points="274.2,294.9 266.8,295.2 260.1,292.3 267.5,292" fill="#0000ef"/><polygon points="260.1,292.3 252.7,293.9 245.9,291 253.3,289.4" fill="#0000ef"/><polygon points="345,300.9 337.6,305.1 330.8,302.2 338.2,298" fill="#0050ff"/><polygon points="183.2,231.9 175.8,232.1 169,224 176.4,223.8" fill="#00ffff"/><polygon points="141.4,189.2 134,190.6 127.2,183.7 134.6,182.3" fill="#ff7000"/><polygon points="373.9,261.3 366.5,275.9 359.7,273 367.1,258.4" fill="#009fff"/><polygon points="253.3,289.4 245.9,291 239.2,248.9 246.5,248.2" fill="#0000ff"/><polygon points="366.5,275.9 359.1,290.7 352.3,287.8 359.7,273" fill="#0050ff"/><polygon points="246.5,248.2 239.2,248.9 232.4,245.9 239.8,243.3" fill="#00dfff"/><polygon points="359.1,290.7 351.7,303.8 345,300.9 352.3,287.8" fill="#0050ff"/><polygon points="232.4,245.9 225,246.2 218.3,238.1 225.6,237.8" fill="#20ffdf"/><polygon points="204.1,240.2 196.7,242.9 190,234.8 197.3,232.1" fill="#30ffcf"/><polygon points="161.7,229.1 154.3,241.3 147.5,230.4 154.9,229" fill="#00cfff"/><polygon points="218.3,238.1 210.9,243.1 204.1,240.2 211.5,235.2" fill="#10ffef"/><polygon points="154.9,229 147.5,230.4 140.8,197.9 148.1,196.5" fill="#40ffbf"/><polygon points="148.1,196.5 140.8,197.9 134,190.6 141.4,189.2" fill="#ffbf00"/><polygon points="190,234.8 182.6,235 175.8,232.1 183.2,231.9" fill="#10ffef"/><polygon points="323.4,304 316.1,305.7 309.3,302.8 316.7,301.1" fill="#0000ff"/><polygon points="309.3,302.8 301.9,303.5 295.1,300.6 302.5,299.9" fill="#0000ef"/><polygon points="337.6,305.1 330.2,306.9 323.4,304 330.8,302.2" fill="#0000ef"/><polygon points="295.1,300.6 287.8,300.7 281,297.8 288.4,297.7" fill="#0000ef"/><polygon points="175.8,232.1 168.4,237.2 161.7,229.1 169,224" fill="#00efff"/><polygon points="252.7,293.9 245.3,295.5 238.6,292.6 245.9,291" fill="#0000ff"/><polygon points="281,297.8 273.6,298.1 266.8,295.2 274.2,294.9" fill="#0000ff"/><polygon points="266.8,295.2 259.5,296.8 252.7,293.9 260.1,292.3" fill="#0000ef"/><polygon points="351.7,303.8 344.3,308 337.6,305.1 345,300.9" fill="#0050ff"/><polygon points="245.9,291 238.6,292.6 231.8,253.5 239.2,248.9" fill="#0010ff"/><polygon points="239.2,248.9 231.8,253.5 225,246.2 232.4,245.9" fill="#00ffff"/><polygon points="168.4,237.2 161.1,246.2 154.3,241.3 161.7,229.1" fill="#00cfff"/><polygon points="210.9,243.1 203.5,245.8 196.7,242.9 204.1,240.2" fill="#20ffdf"/><polygon points="225,246.2 217.6,251.2 210.9,243.1 218.3,238.1" fill="#10ffef"/><polygon points="196.7,242.9 189.3,243.1 182.6,235 190,234.8" fill="#20ffdf"/><polygon points="182.6,235 175.2,240.1 168.4,237.2 175.8,232.1" fill="#10ffef"/><polygon points="330.2,306.9 322.8,308.6 316.1,305.7 323.4,304" fill="#0000ff"/><polygon points="316.1,305.7 308.7,306.4 301.9,303.5 309.3,302.8" fill="#0000ff"/><polygon points="344.3,308 337,309.8 330.2,306.9 337.6,305.1" fill="#0000ef"/><polygon points="301.9,303.5 294.5,303.6 287.8,300.7 295.1,300.6" fill="#0000ef"/><polygon points="245.3,295.5 237.9,297.1 231.2,294.2 238.6,292.6" fill="#0000ff"/><polygon points="259.5,296.8 252.1,298.4 245.3,295.5 252.7,293.9" fill="#0000ef"/><polygon points="287.8,300.7 280.4,301 273.6,298.1 281,297.8" fill="#0000ff"/><polygon points="273.6,298.1 266.2,299.7 259.5,296.8 266.8,295.2" fill="#0000ef"/><polygon points="238.6,292.6 231.2,294.2 224.4,254.1 231.8,253.5" fill="#0010ff"/><polygon points="231.8,253.5 224.4,254.1 217.6,251.2 225,246.2" fill="#00ffff"/><polygon points="217.6,251.2 210.3,253.9 203.5,245.8 210.9,243.1" fill="#10ffef"/><polygon points="175.2,240.1 167.8,249.9 161.1,246.2 168.4,237.2" fill="#20ffdf"/><polygon points="203.5,245.8 196.1,246 189.3,243.1 196.7,242.9" fill="#20ffdf"/><polygon points="189.3,243.1 182,248.2 175.2,240.1 182.6,235" fill="#20ffdf"/><polygon points="337,309.8 329.6,311.5 322.8,308.6 330.2,306.9" fill="#0000ef"/><polygon points="322.8,308.6 315.4,309.3 308.7,306.4 316.1,305.7" fill="#0000ef"/><polygon points="308.7,306.4 301.3,306.5 294.5,303.6 301.9,303.5" fill="#0000ef"/><polygon points="252.1,298.4 244.7,300 237.9,297.1 245.3,295.5" fill="#0000ff"/><polygon points="237.9,297.1 230.6,297.2 223.8,294.3 231.2,294.2" fill="#0000ff"/><polygon points="266.2,299.7 258.8,301.3 252.1,298.4 259.5,296.8" fill="#0000ef"/><polygon points="294.5,303.6 287.1,303.9 280.4,301 287.8,300.7" fill="#0000ef"/><polygon points="280.4,301 273,302.6 266.2,299.7 273.6,298.1" fill="#0000ff"/><polygon points="231.2,294.2 223.8,294.3 217,258.8 224.4,254.1" fill="#0010ff"/><polygon points="224.4,254.1 217,258.8 210.3,253.9 217.6,251.2" fill="#00cfff"/><polygon points="182,248.2 174.6,253.6 167.8,249.9 175.2,240.1" fill="#10ffef"/><polygon points="210.3,253.9 202.9,254.1 196.1,246 203.5,245.8" fill="#10ffef"/><polygon points="196.1,246 188.7,251.1 182,248.2 189.3,243.1" fill="#10ffef"/><polygon points="329.6,311.5 322.2,312.2 315.4,309.3 322.8,308.6" fill="#0000ef"/><polygon points="315.4,309.3 308.1,309.4 301.3,306.5 308.7,306.4" fill="#0000ef"/><polygon points="258.8,301.3 251.5,302.9 244.7,300 252.1,298.4" fill="#0000ef"/><polygon points="244.7,300 237.3,300.1 230.6,297.2 237.9,297.1" fill="#0000ff"/><polygon points="273,302.6 265.6,304.2 258.8,301.3 266.2,299.7" fill="#0000ef"/><polygon points="301.3,306.5 293.9,306.8 287.1,303.9 294.5,303.6" fill="#0000df"/><polygon points="287.1,303.9 279.8,305.5 273,302.6 280.4,301" fill="#0000ef"/><polygon points="230.6,297.2 223.2,296.6 216.4,293.7 223.8,294.3" fill="#0000ff"/><polygon points="223.8,294.3 216.4,293.7 209.6,258.6 217,258.8" fill="#0010ff"/><polygon points="217,258.8 209.6,258.6 202.9,254.1 210.3,253.9" fill="#00bfff"/><polygon points="188.7,251.1 181.3,256.1 174.6,253.6 182,248.2" fill="#10ffef"/><polygon points="202.9,254.1 195.5,259.2 188.7,251.1 196.1,246" fill="#00efff"/><polygon points="322.2,312.2 314.8,312.3 308.1,309.4 315.4,309.3" fill="#0000ef"/><polygon points="265.6,304.2 258.2,305.8 251.5,302.9 258.8,301.3" fill="#0000ef"/><polygon points="251.5,302.9 244.1,303 237.3,300.1 244.7,300" fill="#0000ef"/><polygon points="279.8,305.5 272.4,307.1 265.6,304.2 273,302.6" fill="#0000ef"/><polygon points="308.1,309.4 300.7,309.7 293.9,306.8 301.3,306.5" fill="#0000df"/><polygon points="293.9,306.8 286.5,308.4 279.8,305.5 287.1,303.9" fill="#0000ef"/><polygon points="237.3,300.1 229.9,299.5 223.2,296.6 230.6,297.2" fill="#0000ff"/><polygon points="209.6,258.6 202.3,262.1 195.5,259.2 202.9,254.1" fill="#00afff"/><polygon points="195.5,259.2 188.1,258.6 181.3,256.1 188.7,251.1" fill="#00cfff"/><polygon points="216.4,293.7 209,289 202.3,262.1 209.6,258.6" fill="#0020ff"/><polygon points="223.2,296.6 215.8,291.9 209,289 216.4,293.7" fill="#0000ff"/><polygon points="272.4,307.1 265,308.7 258.2,305.8 265.6,304.2" fill="#0000ef"/><polygon points="258.2,305.8 250.9,305.9 244.1,303 251.5,302.9" fill="#0000ef"/><polygon points="286.5,308.4 279.1,310 272.4,307.1 279.8,305.5" fill="#0000ef"/><polygon points="314.8,312.3 307.4,312.6 300.7,309.7 308.1,309.4" fill="#0000df"/><polygon points="300.7,309.7 293.3,311.3 286.5,308.4 293.9,306.8" fill="#0000df"/><polygon points="202.3,262.1 194.9,264.7 188.1,258.6 195.5,259.2" fill="#008fff"/><polygon points="244.1,303 236.7,302.4 229.9,299.5 237.3,300.1" fill="#0000ff"/><polygon points="209,289 201.6,285.6 194.9,264.7 202.3,262.1" fill="#0030ff"/><polygon points="229.9,299.5 222.6,294.8 215.8,291.9 223.2,296.6" fill="#0000ff"/><polygon points="215.8,291.9 208.4,288.9 201.6,285.6 209,289" fill="#0000ff"/><polygon points="279.1,310 271.8,311.6 265,308.7 272.4,307.1" fill="#0000ef"/><polygon points="265,308.7 257.6,308.8 250.9,305.9 258.2,305.8" fill="#0000ef"/><polygon points="293.3,311.3 285.9,312.9 279.1,310 286.5,308.4" fill="#0000ef"/><polygon points="307.4,312.6 300.1,314.2 293.3,311.3 300.7,309.7" fill="#0000df"/><polygon points="250.9,305.9 243.5,305.4 236.7,302.4 244.1,303" fill="#0000ff"/><polygon points="236.7,302.4 229.3,297.7 222.6,294.8 229.9,299.5" fill="#0000ff"/><polygon points="222.6,294.8 215.2,292.3 208.4,288.9 215.8,291.9" fill="#0000ff"/><polygon points="285.9,312.9 278.5,314.5 271.8,311.6 279.1,310" fill="#0000ef"/><polygon points="271.8,311.6 264.4,311.7 257.6,308.8 265,308.7" fill="#0000ef"/><polygon points="300.1,314.2 292.7,315.8 285.9,312.9 293.3,311.3" fill="#0000df"/><polygon points="257.6,308.8 250.2,308.3 243.5,305.4 250.9,305.9" fill="#0000ef"/><polygon points="243.5,305.4 236.1,300.6 229.3,297.7 236.7,302.4" fill="#0000ff"/><polygon points="229.3,297.7 221.9,295 215.2,292.3 222.6,294.8" fill="#0000ff"/><polygon points="292.7,315.8 285.3,317.4 278.5,314.5 285.9,312.9" fill="#0000ef"/><polygon points="278.5,314.5 271.1,314.7 264.4,311.7 271.8,311.6" fill="#0000ef"/><polygon points="264.4,311.7 257,311.2 250.2,308.3 257.6,308.8" fill="#0000ef"/><polygon points="250.2,308.3 242.9,303.5 236.1,300.6 243.5,305.4" fill="#0000ff"/><polygon points="236.1,300.6 228.7,297.7 221.9,295 229.3,297.7" fill="#0000ff"/><polygon points="285.3,317.4 277.9,317.6 271.1,314.7 278.5,314.5" fill="#0000ef"/><polygon points="271.1,314.7 263.8,314.1 257,311.2 264.4,311.7" fill="#0000ef"/><polygon points="257,311.2 249.6,306.4 242.9,303.5 250.2,308.3" fill="#0000ef"/><polygon points="242.9,303.5 235.5,300.4 228.7,297.7 236.1,300.6" fill="#0000ff"/><polygon points="277.9,317.6 270.5,317 263.8,314.1 271.1,314.7" fill="#0000ef"/><polygon points="263.8,314.1 256.4,309.3 249.6,306.4 257,311.2" fill="#0000ef"/><polygon points="249.6,306.4 242.2,303.1 235.5,300.4 242.9,303.5" fill="#0000ff"/><polygon points="270.5,317 263.2,312.2 256.4,309.3 263.8,314.1" fill="#0000ef"/><polygon points="256.4,309.3 249,307 242.2,303.1 249.6,306.4" fill="#0000ef"/><polygon points="263.2,312.2 255.8,310.9 249,307 256.4,309.3" fill="#0000ef"/></g><line x1="52.8" y1="265.7" x2="52.8" y2="105.7" class="a"/><line x1="269.3" y1="358.7" x2="52.8" y2="265.7" class="a"/><line x1="505.5" y1="274.0" x2="269.3" y2="358.7" class="a"/><line x1="52.8" y1="265.7" x2="47.0" y2="263.2" class="a"/><line x1="52.8" y1="245.7" x2="47.0" y2="243.2" class="a"/><line x1="52.8" y1="225.7" x2="47.0" y2="223.2" class="a"/><line x1="52.8" y1="205.7" x2="47.0" y2="203.2" class="a"/><line x1="52.8" y1="185.7" x2="47.0" y2="183.2" class="a"/><line x1="52.8" y1="165.7" x2="47.0" y2="163.2" class="a"/><line x1="52.8" y1="145.7" x2="47.0" y2="143.2" class="a"/><line x1="52.8" y1="125.7" x2="47.0" y2="123.2" class="a"/><line x1="52.8" y1="105.7" x2="47.0" y2="103.2" class="a"/><line x1="269.3" y1="358.7" x2="263.4" y2="360.8" class="a"/><line x1="242.2" y1="347.1" x2="236.3" y2="349.2" class="a"/><line x1="215.2" y1="335.5" x2="209.2" y2="337.6" class="a"/><line x1="188.1" y1="323.8" x2="182.2" y2="326.0" class="a"/><line x1="161.1" y1="312.2" x2="155.1" y2="314.3" class="a"/><line x1="134.0" y1="300.6" x2="128.1" y2="302.7" class="a"/><line x1="106.9" y1="289.0" x2="101.0" y2="291.1" class="a"/><line x1="79.9" y1="277.3" x2="73.9" y2="279.5" class="a"/><line x1="52.8" y1="265.7" x2="46.9" y2="267.8" class="a"/><line x1="505.5" y1="274.0" x2="511.3" y2="276.5" class="a"/><line x1="476.0" y1="284.6" x2="481.8" y2="287.1" class="a"/><line x1="446.4" y1="295.2" x2="452.2" y2="297.7" class="a"/><line x1="416.9" y1="305.8" x2="422.7" y2="308.3" class="a"/><line x1="387.4" y1="316.4" x2="393.2" y2="318.8" class="a"/><line x1="357.9" y1="326.9" x2="363.7" y2="329.4" class="a"/><line x1="328.4" y1="337.5" x2="334.1" y2="340.0" class="a"/><line x1="298.8" y1="348.1" x2="304.6" y2="350.6" class="a"/><line x1="269.3" y1="358.7" x2="275.1" y2="361.2" class="a"/><text x="45.0" y="266.1" class="t" text-anchor="end">0.45</text><text x="45.0" y="246.1" class="t" text-anchor="end">0.50</text><text x="45.0" y="226.1" class="t" text-anchor="end">0.55</text><text x="45.0" y="206.1" class="t" text-anchor="end">0.60</text><text x="45.0" y="186.1" class="t" text-anchor="end">0.65</text><text x="45.0" y="166.1" class="t" text-anchor="end">0.70</text><text x="45.0" y="146.1" class="t" text-anchor="end">0.75</text><text x="45.0" y="126.1" class="t" text-anchor="end">0.80</text><text x="45.0" y="106.1" class="t" text-anchor="end">0.85</text><text x="262.1" y="369.7" class="t" text-anchor="end">0</text><text x="235.0" y="358.1" class="t" text-anchor="end">2</text><text x="208.0" y="346.5" class="t" text-anchor="end">4</text><text x="180.9" y="334.8" class="t" text-anchor="end">6</text><text x="153.9" y="323.2" class="t" text-anchor="end">8</text><text x="126.8" y="311.6" class="t" text-anchor="end">10</text><text x="99.7" y="300.0" class="t" text-anchor="end">12</text><text x="72.7" y="288.3" class="t" text-anchor="end">14</text><text x="45.6" y="276.7" class="t" text-anchor="end">16</text><text x="514.1" y="286.1" class="t" text-anchor="start">0</text><text x="484.6" y="296.7" class="t" text-anchor="start">2</text><text x="455.1" y="307.3" class="t" text-anchor="start">4</text><text x="425.5" y="317.9" class="t" text-anchor="start">6</text><text x="396.0" y="328.5" class="t" text-anchor="start">8</text><text x="366.5" y="339.0" class="t" text-anchor="start">10</text><text x="337.0" y="349.6" class="t" text-anchor="start">12</text><text x="307.4" y="360.2" class="t" text-anchor="start">14</text><text x="277.9" y="370.8" class="t" text-anchor="start">16</text><text x="193.8" y="10.7" class="T">Accuracy vs. HRF parameters</text><text x="1.1" y="87.9" class="L">Accuracy</text><text x="69.3" y="342.8" class="L">HRF overlap</text><text x="400.4" y="347.8" class="L">HRF delay</text>
</svg></body></html>
